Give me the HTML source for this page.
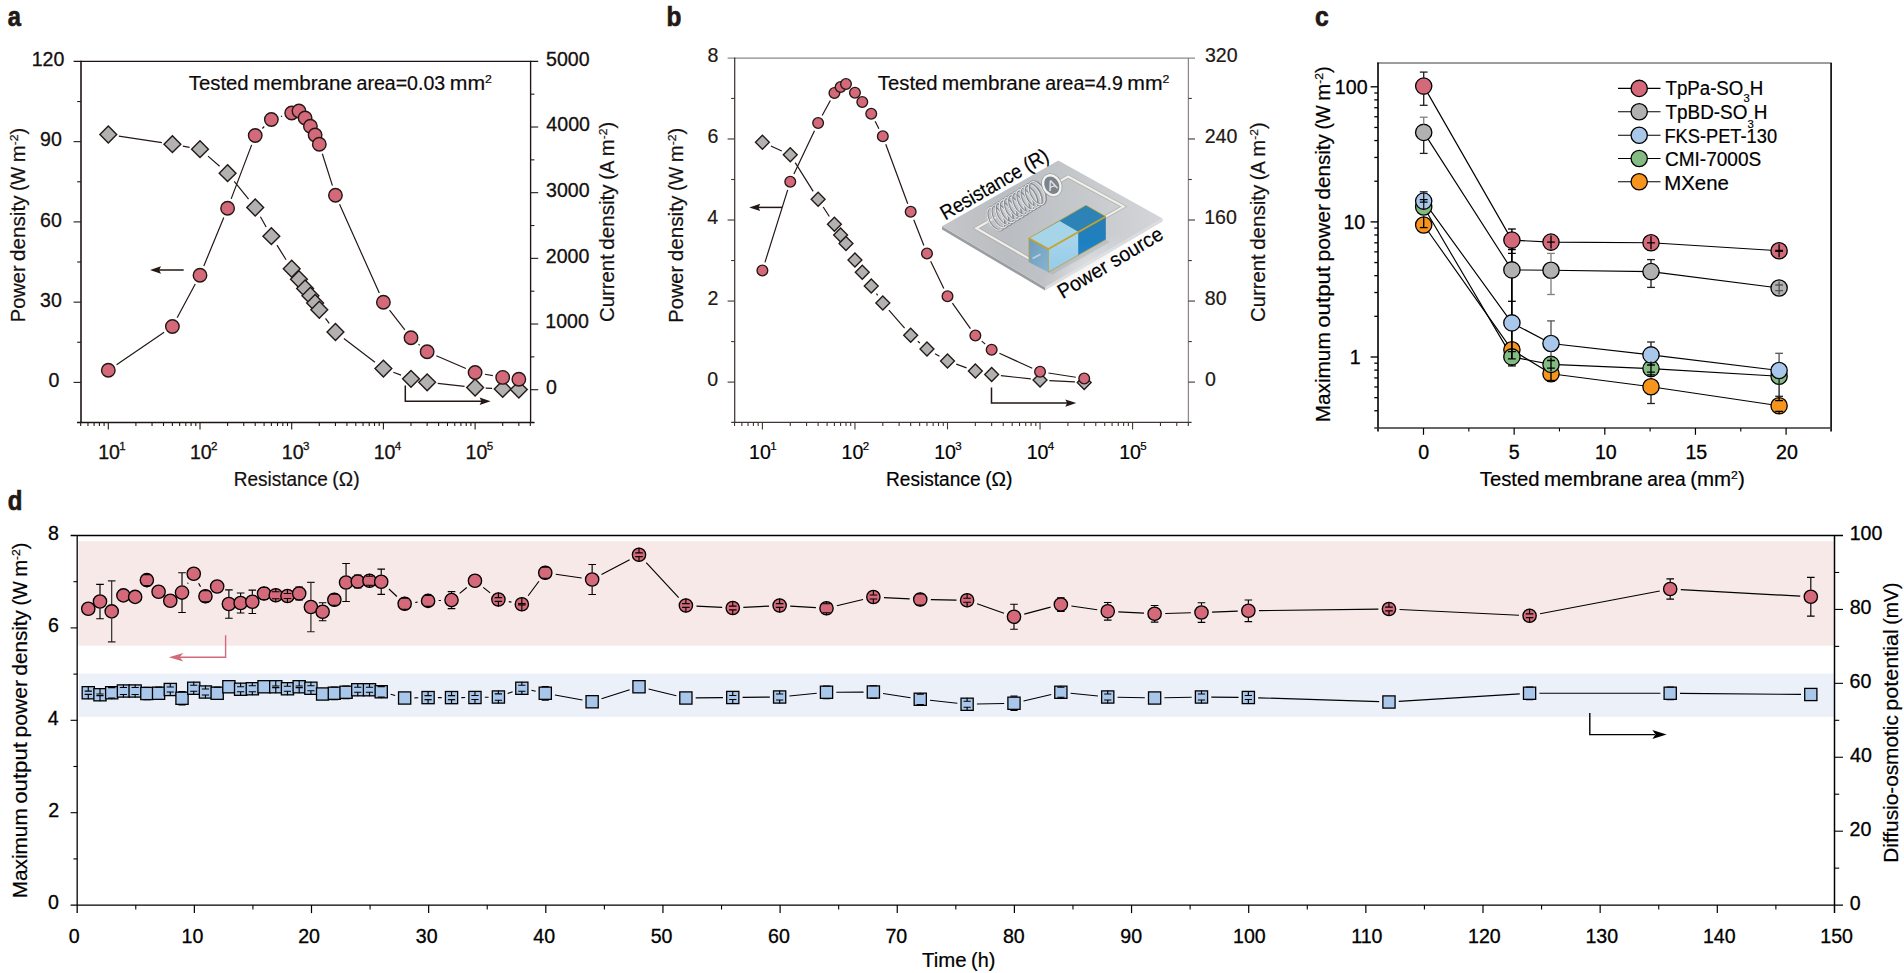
<!DOCTYPE html>
<html lang="en">
<head>
<meta charset="utf-8">
<title>Figure</title>
<style>
html,body{margin:0;padding:0;background:#fff;}
body{width:1904px;height:973px;overflow:hidden;font-family:"Liberation Sans",sans-serif;}
svg{display:block;}
text{white-space:pre;}
</style>
</head>
<body>
<svg width="1904" height="973" viewBox="0 0 1904 973" font-family='"Liberation Sans", sans-serif' role="img" aria-label="Figure with four panels: power density and current density versus resistance, maximum output power density versus tested membrane area, and long-term stability over time">
<rect width="1904" height="973" fill="#ffffff"/>
<line x1="81" y1="60.8" x2="81" y2="423.1" stroke="#1c1412" stroke-width="1.6"/>
<line x1="530.6" y1="60.8" x2="530.6" y2="423.1" stroke="#1c1412" stroke-width="1.35"/>
<line x1="73.6" y1="61.4" x2="538.2" y2="61.4" stroke="#1c1412" stroke-width="1.35"/>
<line x1="77" y1="422.4" x2="534.6" y2="422.4" stroke="#1c1412" stroke-width="1.55"/>
<line x1="73.6" y1="382.4" x2="81" y2="382.4" stroke="#231815" stroke-width="1.1"/>
<text x="48.46" y="387" font-size="19.6" fill="#14100f" stroke="#14100f" stroke-width="0.3">0</text>
<line x1="77.2" y1="342.27" x2="81" y2="342.27" stroke="#231815" stroke-width="1.1"/>
<line x1="73.6" y1="302.15" x2="81" y2="302.15" stroke="#231815" stroke-width="1.1"/>
<text x="40.08" y="306.75" font-size="19.6" fill="#14100f" stroke="#14100f" stroke-width="0.3">30</text>
<line x1="77.2" y1="262.02" x2="81" y2="262.02" stroke="#231815" stroke-width="1.1"/>
<line x1="73.6" y1="221.9" x2="81" y2="221.9" stroke="#231815" stroke-width="1.1"/>
<text x="40.08" y="226.5" font-size="19.6" fill="#14100f" stroke="#14100f" stroke-width="0.3">60</text>
<line x1="77.2" y1="181.77" x2="81" y2="181.77" stroke="#231815" stroke-width="1.1"/>
<line x1="73.6" y1="141.65" x2="81" y2="141.65" stroke="#231815" stroke-width="1.1"/>
<text x="40.08" y="146.25" font-size="19.6" fill="#14100f" stroke="#14100f" stroke-width="0.3">90</text>
<line x1="77.2" y1="101.52" x2="81" y2="101.52" stroke="#231815" stroke-width="1.1"/>
<text x="31.65" y="66" font-size="19.6" fill="#14100f" stroke="#14100f" stroke-width="0.3">120</text>
<line x1="530.6" y1="389.7" x2="538.2" y2="389.7" stroke="#231815" stroke-width="1.1"/>
<text x="546.02" y="394.1" font-size="19.6" fill="#14100f" stroke="#14100f" stroke-width="0.3">0</text>
<line x1="530.6" y1="356.87" x2="534.4" y2="356.87" stroke="#231815" stroke-width="1.1"/>
<line x1="530.6" y1="324.03" x2="538.2" y2="324.03" stroke="#231815" stroke-width="1.1"/>
<text x="545.33" y="328.43" font-size="19.6" fill="#14100f" stroke="#14100f" stroke-width="0.3">1000</text>
<line x1="530.6" y1="291.19" x2="534.4" y2="291.19" stroke="#231815" stroke-width="1.1"/>
<line x1="530.6" y1="258.36" x2="538.2" y2="258.36" stroke="#231815" stroke-width="1.1"/>
<text x="545.82" y="262.76" font-size="19.6" fill="#14100f" stroke="#14100f" stroke-width="0.3">2000</text>
<line x1="530.6" y1="225.52" x2="534.4" y2="225.52" stroke="#231815" stroke-width="1.1"/>
<line x1="530.6" y1="192.69" x2="538.2" y2="192.69" stroke="#231815" stroke-width="1.1"/>
<text x="546.06" y="197.09" font-size="19.6" fill="#14100f" stroke="#14100f" stroke-width="0.3">3000</text>
<line x1="530.6" y1="159.85" x2="534.4" y2="159.85" stroke="#231815" stroke-width="1.1"/>
<line x1="530.6" y1="127.02" x2="538.2" y2="127.02" stroke="#231815" stroke-width="1.1"/>
<text x="546.36" y="131.42" font-size="19.6" fill="#14100f" stroke="#14100f" stroke-width="0.3">4000</text>
<line x1="530.6" y1="94.18" x2="534.4" y2="94.18" stroke="#231815" stroke-width="1.1"/>
<text x="546.02" y="65.75" font-size="19.6" fill="#14100f" stroke="#14100f" stroke-width="0.3">5000</text>
<line x1="80.7" y1="422.4" x2="80.7" y2="426" stroke="#231815" stroke-width="1.1"/>
<line x1="87.96" y1="422.4" x2="87.96" y2="426" stroke="#231815" stroke-width="1.1"/>
<line x1="94.1" y1="422.4" x2="94.1" y2="426" stroke="#231815" stroke-width="1.1"/>
<line x1="99.41" y1="422.4" x2="99.41" y2="426" stroke="#231815" stroke-width="1.1"/>
<line x1="104.1" y1="422.4" x2="104.1" y2="426" stroke="#231815" stroke-width="1.1"/>
<line x1="108.3" y1="422.4" x2="108.3" y2="429.4" stroke="#231815" stroke-width="1.1"/>
<line x1="135.9" y1="422.4" x2="135.9" y2="426" stroke="#231815" stroke-width="1.1"/>
<line x1="152.05" y1="422.4" x2="152.05" y2="426" stroke="#231815" stroke-width="1.1"/>
<line x1="163.51" y1="422.4" x2="163.51" y2="426" stroke="#231815" stroke-width="1.1"/>
<line x1="172.4" y1="422.4" x2="172.4" y2="426" stroke="#231815" stroke-width="1.1"/>
<line x1="179.66" y1="422.4" x2="179.66" y2="426" stroke="#231815" stroke-width="1.1"/>
<line x1="185.8" y1="422.4" x2="185.8" y2="426" stroke="#231815" stroke-width="1.1"/>
<line x1="191.11" y1="422.4" x2="191.11" y2="426" stroke="#231815" stroke-width="1.1"/>
<line x1="195.8" y1="422.4" x2="195.8" y2="426" stroke="#231815" stroke-width="1.1"/>
<line x1="200" y1="422.4" x2="200" y2="429.4" stroke="#231815" stroke-width="1.1"/>
<line x1="227.6" y1="422.4" x2="227.6" y2="426" stroke="#231815" stroke-width="1.1"/>
<line x1="243.75" y1="422.4" x2="243.75" y2="426" stroke="#231815" stroke-width="1.1"/>
<line x1="255.21" y1="422.4" x2="255.21" y2="426" stroke="#231815" stroke-width="1.1"/>
<line x1="264.1" y1="422.4" x2="264.1" y2="426" stroke="#231815" stroke-width="1.1"/>
<line x1="271.36" y1="422.4" x2="271.36" y2="426" stroke="#231815" stroke-width="1.1"/>
<line x1="277.5" y1="422.4" x2="277.5" y2="426" stroke="#231815" stroke-width="1.1"/>
<line x1="282.81" y1="422.4" x2="282.81" y2="426" stroke="#231815" stroke-width="1.1"/>
<line x1="287.5" y1="422.4" x2="287.5" y2="426" stroke="#231815" stroke-width="1.1"/>
<line x1="291.7" y1="422.4" x2="291.7" y2="429.4" stroke="#231815" stroke-width="1.1"/>
<line x1="319.3" y1="422.4" x2="319.3" y2="426" stroke="#231815" stroke-width="1.1"/>
<line x1="335.45" y1="422.4" x2="335.45" y2="426" stroke="#231815" stroke-width="1.1"/>
<line x1="346.91" y1="422.4" x2="346.91" y2="426" stroke="#231815" stroke-width="1.1"/>
<line x1="355.8" y1="422.4" x2="355.8" y2="426" stroke="#231815" stroke-width="1.1"/>
<line x1="363.06" y1="422.4" x2="363.06" y2="426" stroke="#231815" stroke-width="1.1"/>
<line x1="369.2" y1="422.4" x2="369.2" y2="426" stroke="#231815" stroke-width="1.1"/>
<line x1="374.51" y1="422.4" x2="374.51" y2="426" stroke="#231815" stroke-width="1.1"/>
<line x1="379.2" y1="422.4" x2="379.2" y2="426" stroke="#231815" stroke-width="1.1"/>
<line x1="383.4" y1="422.4" x2="383.4" y2="429.4" stroke="#231815" stroke-width="1.1"/>
<line x1="411" y1="422.4" x2="411" y2="426" stroke="#231815" stroke-width="1.1"/>
<line x1="427.15" y1="422.4" x2="427.15" y2="426" stroke="#231815" stroke-width="1.1"/>
<line x1="438.61" y1="422.4" x2="438.61" y2="426" stroke="#231815" stroke-width="1.1"/>
<line x1="447.5" y1="422.4" x2="447.5" y2="426" stroke="#231815" stroke-width="1.1"/>
<line x1="454.76" y1="422.4" x2="454.76" y2="426" stroke="#231815" stroke-width="1.1"/>
<line x1="460.9" y1="422.4" x2="460.9" y2="426" stroke="#231815" stroke-width="1.1"/>
<line x1="466.21" y1="422.4" x2="466.21" y2="426" stroke="#231815" stroke-width="1.1"/>
<line x1="470.9" y1="422.4" x2="470.9" y2="426" stroke="#231815" stroke-width="1.1"/>
<line x1="475.1" y1="422.4" x2="475.1" y2="429.4" stroke="#231815" stroke-width="1.1"/>
<line x1="502.7" y1="422.4" x2="502.7" y2="426" stroke="#231815" stroke-width="1.1"/>
<line x1="518.85" y1="422.4" x2="518.85" y2="426" stroke="#231815" stroke-width="1.1"/>
<line x1="530.31" y1="422.4" x2="530.31" y2="426" stroke="#231815" stroke-width="1.1"/>
<text x="98.13" y="458.5" font-size="19.6" fill="#14100f" stroke="#14100f" stroke-width="0.3">10<tspan dx="-0.7" dy="-9" font-size="11.56">1</tspan></text>
<text x="189.98" y="458.5" font-size="19.6" fill="#14100f" stroke="#14100f" stroke-width="0.3">10<tspan dx="-0.7" dy="-9" font-size="11.56">2</tspan></text>
<text x="281.83" y="458.5" font-size="19.6" fill="#14100f" stroke="#14100f" stroke-width="0.3">10<tspan dx="-0.7" dy="-9" font-size="11.56">3</tspan></text>
<text x="373.68" y="458.5" font-size="19.6" fill="#14100f" stroke="#14100f" stroke-width="0.3">10<tspan dx="-0.7" dy="-9" font-size="11.56">4</tspan></text>
<text x="465.53" y="458.5" font-size="19.6" fill="#14100f" stroke="#14100f" stroke-width="0.3">10<tspan dx="-0.7" dy="-9" font-size="11.56">5</tspan></text>
<g transform="translate(25.2 320.5) rotate(-90)">
<text x="-1.65" y="0" font-size="19.6" fill="#14100f" textLength="56.7" lengthAdjust="spacingAndGlyphs" stroke="#14100f" stroke-width="0.2">Power</text>
<text x="59.59" y="0" font-size="19.6" fill="#14100f" textLength="65.42" lengthAdjust="spacingAndGlyphs" stroke="#14100f" stroke-width="0.2">density</text>
<text x="129.55" y="0" font-size="19.6" fill="#14100f" textLength="24.22" lengthAdjust="spacingAndGlyphs" stroke="#14100f" stroke-width="0.2">(W</text>
<text x="158.32" y="0" font-size="19.6" fill="#14100f" textLength="34.51" lengthAdjust="spacingAndGlyphs" stroke="#14100f" stroke-width="0.2">m<tspan dx="0" dy="-6.8" font-size="11.76">-2</tspan><tspan dy="6.8">)</tspan></text>
</g>
<g transform="translate(614.1 321) rotate(-90)">
<text x="-1.02" y="0" font-size="19.6" fill="#14100f" textLength="67.85" lengthAdjust="spacingAndGlyphs" stroke="#14100f" stroke-width="0.2">Current</text>
<text x="71.37" y="0" font-size="19.6" fill="#14100f" textLength="65.28" lengthAdjust="spacingAndGlyphs" stroke="#14100f" stroke-width="0.2">density</text>
<text x="141.19" y="0" font-size="19.6" fill="#14100f" textLength="19.17" lengthAdjust="spacingAndGlyphs" stroke="#14100f" stroke-width="0.2">(A</text>
<text x="164.89" y="0" font-size="19.6" fill="#14100f" textLength="34.44" lengthAdjust="spacingAndGlyphs" stroke="#14100f" stroke-width="0.2">m<tspan dx="0" dy="-6.8" font-size="11.76">-2</tspan><tspan dy="6.8">)</tspan></text>
</g>
<g>
<text x="233.73" y="485.6" font-size="19.6" fill="#14100f" textLength="94.07" lengthAdjust="spacingAndGlyphs" stroke="#14100f" stroke-width="0.2">Resistance</text>
<text x="332.36" y="485.6" font-size="19.6" fill="#14100f" textLength="27.22" lengthAdjust="spacingAndGlyphs" stroke="#14100f" stroke-width="0.2">(Ω)</text>
</g>
<g>
<text x="188.84" y="89.5" font-size="19.6" fill="#0d0a09" textLength="59.85" lengthAdjust="spacingAndGlyphs" stroke="#0d0a09" stroke-width="0.2">Tested</text>
<text x="253.24" y="89.5" font-size="19.6" fill="#0d0a09" textLength="98.74" lengthAdjust="spacingAndGlyphs" stroke="#0d0a09" stroke-width="0.2">membrane</text>
<text x="356.53" y="89.5" font-size="19.6" fill="#0d0a09" textLength="88.68" lengthAdjust="spacingAndGlyphs" stroke="#0d0a09" stroke-width="0.2">area=0.03</text>
<text x="449.76" y="89.5" font-size="19.6" fill="#0d0a09" textLength="42.16" lengthAdjust="spacingAndGlyphs" stroke="#0d0a09" stroke-width="0.2">mm<tspan dx="0" dy="-7" font-size="11.37">2</tspan></text>
</g>
<line x1="158" y1="270" x2="183.7" y2="270" stroke="#231815" stroke-width="1.5"/>
<path d="M150 270L161 273.7L159.2 270L161 266.3Z" fill="#231815"/>
<path d="M405.3 385.5V401.3H482" stroke="#231815" stroke-width="1.5" fill="none"/>
<path d="M490.6 401.3L479.6 397.6L481.4 401.3L479.6 405Z" fill="#231815"/>
<path d="M118.78 136.09L161.91 142.61M182.83 146.09L189.57 147.31M208 156.15L219.61 166.25M234.25 181.46L248.56 199.24M260.41 216.74L266.16 226.96M276.97 245.19L286.08 259.76M325.53 318.33L329.23 323.42M343.88 338.43L374.97 362.17M393.34 372.27L401.06 375.13M437.69 383.44L464.56 386.36M485.69 388.04L492.12 388.36" stroke="#231815" stroke-width="1.2" fill="none"/>
<path d="M116.56 364.66L164.14 332.14M177.14 317.7L195.26 284.05M203.81 266L223.8 217.45M231.15 198.85L251.66 144.85M262.31 128.46L264.25 126.54M280.88 116.46L282.17 116.04M322.32 153.73L332.43 185.67M339.54 204.33L379.31 293.12M389.54 310.14L404.87 329.86M418.56 344.3L419.6 345.2M436.33 355.72L465.92 368.53M484.95 374.25L492.86 375.65" stroke="#231815" stroke-width="1.2" fill="none"/>
<path d="M108.3 126.1L116.7 134.5L108.3 142.9L99.9 134.5Z" fill="#b1b1b1" stroke="#231815" stroke-width="1.4" stroke-linejoin="miter"/>
<path d="M172.4 135.8L180.8 144.2L172.4 152.6L164 144.2Z" fill="#b1b1b1" stroke="#231815" stroke-width="1.4" stroke-linejoin="miter"/>
<path d="M200 140.8L208.4 149.2L200 157.6L191.6 149.2Z" fill="#b1b1b1" stroke="#231815" stroke-width="1.4" stroke-linejoin="miter"/>
<path d="M227.6 164.8L236 173.2L227.6 181.6L219.2 173.2Z" fill="#b1b1b1" stroke="#231815" stroke-width="1.4" stroke-linejoin="miter"/>
<path d="M255.21 199.1L263.61 207.5L255.21 215.9L246.81 207.5Z" fill="#b1b1b1" stroke="#231815" stroke-width="1.4" stroke-linejoin="miter"/>
<path d="M271.36 227.8L279.76 236.2L271.36 244.6L262.96 236.2Z" fill="#b1b1b1" stroke="#231815" stroke-width="1.4" stroke-linejoin="miter"/>
<path d="M291.7 260.35L300.1 268.75L291.7 277.15L283.3 268.75Z" fill="#b1b1b1" stroke="#231815" stroke-width="1.4" stroke-linejoin="miter"/>
<path d="M298.96 270.85L307.36 279.25L298.96 287.65L290.56 279.25Z" fill="#b1b1b1" stroke="#231815" stroke-width="1.4" stroke-linejoin="miter"/>
<path d="M305.1 280.1L313.5 288.5L305.1 296.9L296.7 288.5Z" fill="#b1b1b1" stroke="#231815" stroke-width="1.4" stroke-linejoin="miter"/>
<path d="M310.42 287.35L318.82 295.75L310.42 304.15L302.02 295.75Z" fill="#b1b1b1" stroke="#231815" stroke-width="1.4" stroke-linejoin="miter"/>
<path d="M315.11 294.6L323.51 303L315.11 311.4L306.71 303Z" fill="#b1b1b1" stroke="#231815" stroke-width="1.4" stroke-linejoin="miter"/>
<path d="M319.3 301.35L327.7 309.75L319.3 318.15L310.9 309.75Z" fill="#b1b1b1" stroke="#231815" stroke-width="1.4" stroke-linejoin="miter"/>
<path d="M335.45 323.6L343.85 332L335.45 340.4L327.05 332Z" fill="#b1b1b1" stroke="#231815" stroke-width="1.4" stroke-linejoin="miter"/>
<path d="M383.4 360.2L391.8 368.6L383.4 377L375 368.6Z" fill="#b1b1b1" stroke="#231815" stroke-width="1.4" stroke-linejoin="miter"/>
<path d="M411 370.4L419.4 378.8L411 387.2L402.6 378.8Z" fill="#b1b1b1" stroke="#231815" stroke-width="1.4" stroke-linejoin="miter"/>
<path d="M427.15 373.9L435.55 382.3L427.15 390.7L418.75 382.3Z" fill="#b1b1b1" stroke="#231815" stroke-width="1.4" stroke-linejoin="miter"/>
<path d="M475.1 379.1L483.5 387.5L475.1 395.9L466.7 387.5Z" fill="#b1b1b1" stroke="#231815" stroke-width="1.4" stroke-linejoin="miter"/>
<path d="M502.7 380.5L511.1 388.9L502.7 397.3L494.3 388.9Z" fill="#b1b1b1" stroke="#231815" stroke-width="1.4" stroke-linejoin="miter"/>
<path d="M518.85 381.2L527.25 389.6L518.85 398L510.45 389.6Z" fill="#b1b1b1" stroke="#231815" stroke-width="1.4" stroke-linejoin="miter"/>
<circle cx="108.3" cy="370.3" r="6.75" fill="#d4697a" stroke="#231815" stroke-width="1.4"/>
<circle cx="172.4" cy="326.5" r="6.75" fill="#d4697a" stroke="#231815" stroke-width="1.4"/>
<circle cx="200" cy="275.25" r="6.75" fill="#d4697a" stroke="#231815" stroke-width="1.4"/>
<circle cx="227.6" cy="208.2" r="6.75" fill="#d4697a" stroke="#231815" stroke-width="1.4"/>
<circle cx="255.21" cy="135.5" r="6.75" fill="#d4697a" stroke="#231815" stroke-width="1.4"/>
<circle cx="271.36" cy="119.5" r="6.75" fill="#d4697a" stroke="#231815" stroke-width="1.4"/>
<circle cx="291.7" cy="113" r="6.75" fill="#d4697a" stroke="#231815" stroke-width="1.4"/>
<circle cx="298.96" cy="111" r="6.75" fill="#d4697a" stroke="#231815" stroke-width="1.4"/>
<circle cx="305.1" cy="118" r="6.75" fill="#d4697a" stroke="#231815" stroke-width="1.4"/>
<circle cx="310.42" cy="126.2" r="6.75" fill="#d4697a" stroke="#231815" stroke-width="1.4"/>
<circle cx="315.11" cy="135" r="6.75" fill="#d4697a" stroke="#231815" stroke-width="1.4"/>
<circle cx="319.3" cy="144.2" r="6.75" fill="#d4697a" stroke="#231815" stroke-width="1.4"/>
<circle cx="335.45" cy="195.2" r="6.75" fill="#d4697a" stroke="#231815" stroke-width="1.4"/>
<circle cx="383.4" cy="302.25" r="6.75" fill="#d4697a" stroke="#231815" stroke-width="1.4"/>
<circle cx="411" cy="337.75" r="6.75" fill="#d4697a" stroke="#231815" stroke-width="1.4"/>
<circle cx="427.15" cy="351.75" r="6.75" fill="#d4697a" stroke="#231815" stroke-width="1.4"/>
<circle cx="475.1" cy="372.5" r="6.75" fill="#d4697a" stroke="#231815" stroke-width="1.4"/>
<circle cx="502.7" cy="377.4" r="6.75" fill="#d4697a" stroke="#231815" stroke-width="1.4"/>
<circle cx="518.85" cy="379.2" r="6.75" fill="#d4697a" stroke="#231815" stroke-width="1.4"/>
<line x1="727.6" y1="58" x2="1195" y2="58" stroke="#8f8886" stroke-width="1.25"/>
<line x1="1188.4" y1="58" x2="1188.4" y2="422.4" stroke="#8f8886" stroke-width="1.25"/>
<line x1="734.7" y1="57.5" x2="734.7" y2="423" stroke="#3e3532" stroke-width="1.25"/>
<line x1="731.2" y1="422.4" x2="1191.6" y2="422.4" stroke="#3e3532" stroke-width="1.25"/>
<line x1="727.6" y1="382.1" x2="734.7" y2="382.1" stroke="#3e3532" stroke-width="1.1"/>
<text x="707.36" y="386.3" font-size="19.6" fill="#231815" stroke="#231815" stroke-width="0.2">0</text>
<line x1="731.2" y1="341.58" x2="734.7" y2="341.58" stroke="#3e3532" stroke-width="1.1"/>
<line x1="727.6" y1="301.06" x2="734.7" y2="301.06" stroke="#3e3532" stroke-width="1.1"/>
<text x="707.6" y="305.26" font-size="19.6" fill="#231815" stroke="#231815" stroke-width="0.2">2</text>
<line x1="731.2" y1="260.54" x2="734.7" y2="260.54" stroke="#3e3532" stroke-width="1.1"/>
<line x1="727.6" y1="220.02" x2="734.7" y2="220.02" stroke="#3e3532" stroke-width="1.1"/>
<text x="707.16" y="224.22" font-size="19.6" fill="#231815" stroke="#231815" stroke-width="0.2">4</text>
<line x1="731.2" y1="179.5" x2="734.7" y2="179.5" stroke="#3e3532" stroke-width="1.1"/>
<line x1="727.6" y1="138.98" x2="734.7" y2="138.98" stroke="#3e3532" stroke-width="1.1"/>
<text x="707.46" y="143.18" font-size="19.6" fill="#231815" stroke="#231815" stroke-width="0.2">6</text>
<line x1="731.2" y1="98.46" x2="734.7" y2="98.46" stroke="#3e3532" stroke-width="1.1"/>
<text x="707.46" y="62.14" font-size="19.6" fill="#231815" stroke="#231815" stroke-width="0.2">8</text>
<line x1="1188.4" y1="382.1" x2="1195" y2="382.1" stroke="#3e3532" stroke-width="1.1"/>
<text x="1204.92" y="386.1" font-size="19.6" fill="#231815" stroke="#231815" stroke-width="0.2">0</text>
<line x1="1188.4" y1="341.58" x2="1191.8" y2="341.58" stroke="#3e3532" stroke-width="1.1"/>
<line x1="1188.4" y1="301.06" x2="1195" y2="301.06" stroke="#3e3532" stroke-width="1.1"/>
<text x="1204.87" y="305.06" font-size="19.6" fill="#231815" stroke="#231815" stroke-width="0.2">80</text>
<line x1="1188.4" y1="260.54" x2="1191.8" y2="260.54" stroke="#3e3532" stroke-width="1.1"/>
<line x1="1188.4" y1="220.02" x2="1195" y2="220.02" stroke="#3e3532" stroke-width="1.1"/>
<text x="1204.23" y="224.02" font-size="19.6" fill="#231815" stroke="#231815" stroke-width="0.2">160</text>
<line x1="1188.4" y1="179.5" x2="1191.8" y2="179.5" stroke="#3e3532" stroke-width="1.1"/>
<line x1="1188.4" y1="138.98" x2="1195" y2="138.98" stroke="#3e3532" stroke-width="1.1"/>
<text x="1204.72" y="142.98" font-size="19.6" fill="#231815" stroke="#231815" stroke-width="0.2">240</text>
<line x1="1188.4" y1="98.46" x2="1191.8" y2="98.46" stroke="#3e3532" stroke-width="1.1"/>
<text x="1204.97" y="61.94" font-size="19.6" fill="#231815" stroke="#231815" stroke-width="0.2">320</text>
<line x1="734.54" y1="422.4" x2="734.54" y2="426" stroke="#3e3532" stroke-width="1.1"/>
<line x1="741.87" y1="422.4" x2="741.87" y2="426" stroke="#3e3532" stroke-width="1.1"/>
<line x1="748.06" y1="422.4" x2="748.06" y2="426" stroke="#3e3532" stroke-width="1.1"/>
<line x1="753.43" y1="422.4" x2="753.43" y2="426" stroke="#3e3532" stroke-width="1.1"/>
<line x1="758.17" y1="422.4" x2="758.17" y2="426" stroke="#3e3532" stroke-width="1.1"/>
<line x1="762.4" y1="422.4" x2="762.4" y2="429.4" stroke="#3e3532" stroke-width="1.1"/>
<line x1="790.26" y1="422.4" x2="790.26" y2="426" stroke="#3e3532" stroke-width="1.1"/>
<line x1="806.56" y1="422.4" x2="806.56" y2="426" stroke="#3e3532" stroke-width="1.1"/>
<line x1="818.12" y1="422.4" x2="818.12" y2="426" stroke="#3e3532" stroke-width="1.1"/>
<line x1="827.09" y1="422.4" x2="827.09" y2="426" stroke="#3e3532" stroke-width="1.1"/>
<line x1="834.42" y1="422.4" x2="834.42" y2="426" stroke="#3e3532" stroke-width="1.1"/>
<line x1="840.61" y1="422.4" x2="840.61" y2="426" stroke="#3e3532" stroke-width="1.1"/>
<line x1="845.98" y1="422.4" x2="845.98" y2="426" stroke="#3e3532" stroke-width="1.1"/>
<line x1="850.72" y1="422.4" x2="850.72" y2="426" stroke="#3e3532" stroke-width="1.1"/>
<line x1="854.95" y1="422.4" x2="854.95" y2="429.4" stroke="#3e3532" stroke-width="1.1"/>
<line x1="882.81" y1="422.4" x2="882.81" y2="426" stroke="#3e3532" stroke-width="1.1"/>
<line x1="899.11" y1="422.4" x2="899.11" y2="426" stroke="#3e3532" stroke-width="1.1"/>
<line x1="910.67" y1="422.4" x2="910.67" y2="426" stroke="#3e3532" stroke-width="1.1"/>
<line x1="919.64" y1="422.4" x2="919.64" y2="426" stroke="#3e3532" stroke-width="1.1"/>
<line x1="926.97" y1="422.4" x2="926.97" y2="426" stroke="#3e3532" stroke-width="1.1"/>
<line x1="933.16" y1="422.4" x2="933.16" y2="426" stroke="#3e3532" stroke-width="1.1"/>
<line x1="938.53" y1="422.4" x2="938.53" y2="426" stroke="#3e3532" stroke-width="1.1"/>
<line x1="943.27" y1="422.4" x2="943.27" y2="426" stroke="#3e3532" stroke-width="1.1"/>
<line x1="947.5" y1="422.4" x2="947.5" y2="429.4" stroke="#3e3532" stroke-width="1.1"/>
<line x1="975.36" y1="422.4" x2="975.36" y2="426" stroke="#3e3532" stroke-width="1.1"/>
<line x1="991.66" y1="422.4" x2="991.66" y2="426" stroke="#3e3532" stroke-width="1.1"/>
<line x1="1003.22" y1="422.4" x2="1003.22" y2="426" stroke="#3e3532" stroke-width="1.1"/>
<line x1="1012.19" y1="422.4" x2="1012.19" y2="426" stroke="#3e3532" stroke-width="1.1"/>
<line x1="1019.52" y1="422.4" x2="1019.52" y2="426" stroke="#3e3532" stroke-width="1.1"/>
<line x1="1025.71" y1="422.4" x2="1025.71" y2="426" stroke="#3e3532" stroke-width="1.1"/>
<line x1="1031.08" y1="422.4" x2="1031.08" y2="426" stroke="#3e3532" stroke-width="1.1"/>
<line x1="1035.82" y1="422.4" x2="1035.82" y2="426" stroke="#3e3532" stroke-width="1.1"/>
<line x1="1040.05" y1="422.4" x2="1040.05" y2="429.4" stroke="#3e3532" stroke-width="1.1"/>
<line x1="1067.91" y1="422.4" x2="1067.91" y2="426" stroke="#3e3532" stroke-width="1.1"/>
<line x1="1084.21" y1="422.4" x2="1084.21" y2="426" stroke="#3e3532" stroke-width="1.1"/>
<line x1="1095.77" y1="422.4" x2="1095.77" y2="426" stroke="#3e3532" stroke-width="1.1"/>
<line x1="1104.74" y1="422.4" x2="1104.74" y2="426" stroke="#3e3532" stroke-width="1.1"/>
<line x1="1112.07" y1="422.4" x2="1112.07" y2="426" stroke="#3e3532" stroke-width="1.1"/>
<line x1="1118.26" y1="422.4" x2="1118.26" y2="426" stroke="#3e3532" stroke-width="1.1"/>
<line x1="1123.63" y1="422.4" x2="1123.63" y2="426" stroke="#3e3532" stroke-width="1.1"/>
<line x1="1128.37" y1="422.4" x2="1128.37" y2="426" stroke="#3e3532" stroke-width="1.1"/>
<line x1="1132.6" y1="422.4" x2="1132.6" y2="429.4" stroke="#3e3532" stroke-width="1.1"/>
<line x1="1160.46" y1="422.4" x2="1160.46" y2="426" stroke="#3e3532" stroke-width="1.1"/>
<line x1="1176.76" y1="422.4" x2="1176.76" y2="426" stroke="#3e3532" stroke-width="1.1"/>
<line x1="1188.32" y1="422.4" x2="1188.32" y2="426" stroke="#3e3532" stroke-width="1.1"/>
<text x="749.03" y="458.5" font-size="19.6" fill="#000000" stroke="#000000" stroke-width="0.2">10<tspan dx="-0.7" dy="-9" font-size="11.56">1</tspan></text>
<text x="841.58" y="458.5" font-size="19.6" fill="#000000" stroke="#000000" stroke-width="0.2">10<tspan dx="-0.7" dy="-9" font-size="11.56">2</tspan></text>
<text x="934.13" y="458.5" font-size="19.6" fill="#000000" stroke="#000000" stroke-width="0.2">10<tspan dx="-0.7" dy="-9" font-size="11.56">3</tspan></text>
<text x="1026.68" y="458.5" font-size="19.6" fill="#000000" stroke="#000000" stroke-width="0.2">10<tspan dx="-0.7" dy="-9" font-size="11.56">4</tspan></text>
<text x="1119.23" y="458.5" font-size="19.6" fill="#000000" stroke="#000000" stroke-width="0.2">10<tspan dx="-0.7" dy="-9" font-size="11.56">5</tspan></text>
<g transform="translate(682.6 321) rotate(-90)">
<text x="-1.65" y="0" font-size="19.6" fill="#14100f" textLength="56.84" lengthAdjust="spacingAndGlyphs" stroke="#14100f" stroke-width="0.2">Power</text>
<text x="59.74" y="0" font-size="19.6" fill="#14100f" textLength="65.59" lengthAdjust="spacingAndGlyphs" stroke="#14100f" stroke-width="0.2">density</text>
<text x="129.89" y="0" font-size="19.6" fill="#14100f" textLength="24.28" lengthAdjust="spacingAndGlyphs" stroke="#14100f" stroke-width="0.2">(W</text>
<text x="158.73" y="0" font-size="19.6" fill="#14100f" textLength="34.6" lengthAdjust="spacingAndGlyphs" stroke="#14100f" stroke-width="0.2">m<tspan dx="0" dy="-6.8" font-size="11.76">-2</tspan><tspan dy="6.8">)</tspan></text>
</g>
<g transform="translate(1265.2 321) rotate(-90)">
<text x="-1.01" y="0" font-size="19.6" fill="#14100f" textLength="67.65" lengthAdjust="spacingAndGlyphs" stroke="#14100f" stroke-width="0.2">Current</text>
<text x="71.15" y="0" font-size="19.6" fill="#14100f" textLength="65.09" lengthAdjust="spacingAndGlyphs" stroke="#14100f" stroke-width="0.2">density</text>
<text x="140.76" y="0" font-size="19.6" fill="#14100f" textLength="19.11" lengthAdjust="spacingAndGlyphs" stroke="#14100f" stroke-width="0.2">(A</text>
<text x="164.39" y="0" font-size="19.6" fill="#14100f" textLength="34.33" lengthAdjust="spacingAndGlyphs" stroke="#14100f" stroke-width="0.2">m<tspan dx="0" dy="-6.8" font-size="11.76">-2</tspan><tspan dy="6.8">)</tspan></text>
</g>
<g>
<text x="886.02" y="485.6" font-size="19.6" fill="#000000" textLength="94.53" lengthAdjust="spacingAndGlyphs" stroke="#000000" stroke-width="0.2">Resistance</text>
<text x="985.13" y="485.6" font-size="19.6" fill="#000000" textLength="27.35" lengthAdjust="spacingAndGlyphs" stroke="#000000" stroke-width="0.2">(Ω)</text>
</g>
<g>
<text x="877.84" y="89.5" font-size="19.6" fill="#0d0a09" textLength="59.75" lengthAdjust="spacingAndGlyphs" stroke="#0d0a09" stroke-width="0.2">Tested</text>
<text x="942.13" y="89.5" font-size="19.6" fill="#0d0a09" textLength="98.58" lengthAdjust="spacingAndGlyphs" stroke="#0d0a09" stroke-width="0.2">membrane</text>
<text x="1045.25" y="89.5" font-size="19.6" fill="#0d0a09" textLength="77.55" lengthAdjust="spacingAndGlyphs" stroke="#0d0a09" stroke-width="0.2">area=4.9</text>
<text x="1127.34" y="89.5" font-size="19.6" fill="#0d0a09" textLength="42.09" lengthAdjust="spacingAndGlyphs" stroke="#0d0a09" stroke-width="0.2">mm<tspan dx="0" dy="-7" font-size="11.37">2</tspan></text>
</g>
<defs>
<linearGradient id="plate" gradientUnits="userSpaceOnUse" x1="950" y1="225" x2="1160" y2="220">
<stop offset="0" stop-color="#c3c5c8"/><stop offset="0.28" stop-color="#babdc1"/><stop offset="0.6" stop-color="#c5c8cb"/><stop offset="1" stop-color="#d3d5d8"/>
</linearGradient>
<linearGradient id="bxl" x1="0" y1="0" x2="1" y2="1"><stop offset="0" stop-color="#6e9bbb"/><stop offset="1" stop-color="#86b4d2"/></linearGradient>
<linearGradient id="bxd" x1="0" y1="0" x2="0" y2="1"><stop offset="0" stop-color="#2a7db4"/><stop offset="0.5" stop-color="#1c80c2"/><stop offset="1" stop-color="#2f8fcb"/></linearGradient>
<linearGradient id="bxf" x1="0" y1="0" x2="0" y2="1"><stop offset="0" stop-color="#a9d6ec"/><stop offset="1" stop-color="#97cbe8"/></linearGradient>
<radialGradient id="glow"><stop offset="0" stop-color="#e2e4e6" stop-opacity="0.7"/><stop offset="1" stop-color="#e2e4e6" stop-opacity="0"/></radialGradient>
</defs>
<path d="M942 226.3L1045 287.2L1045 290.4L942 229.6Z" fill="#9a9ea2"/>
<path d="M1045 287.2L1162.6 218.5L1162.6 221.6L1045 290.4Z" fill="#d9dbdd"/>
<path d="M942 226.3L1058.3 160.5L1162.6 218.5L1045 287.2Z" fill="url(#plate)"/>
<ellipse cx="1085" cy="262" rx="48" ry="15" transform="rotate(-30 1085 262)" fill="url(#glow)"/>
<path d="M1048.4 272.2L1105.8 239.6L1110 242L1052.5 274.6Z" fill="#9a9ea3" opacity="0.3"/>
<path d="M996 217.3L976.3 228.2L1032.4 260.6L1040 256.3" stroke="#9c9c98" stroke-width="3.7" fill="none" stroke-linejoin="miter" opacity="0.55"/>
<path d="M1059 181.6L1068.2 176.6L1123.6 206.6L1104 217.6" stroke="#9c9c98" stroke-width="3.7" fill="none" stroke-linejoin="miter" opacity="0.55"/>
<path d="M996 217.3L976.3 228.2L1032.4 260.6L1040 256.3" stroke="#efeeea" stroke-width="2.2" fill="none" stroke-linejoin="miter" opacity="1"/>
<path d="M1059 181.6L1068.2 176.6L1123.6 206.6L1104 217.6" stroke="#efeeea" stroke-width="2.2" fill="none" stroke-linejoin="miter" opacity="1"/>
<path d="M996 218.6L1037.4 193" stroke="#d2d5d8" stroke-width="22" stroke-linecap="round" opacity="0.28"/>
<ellipse cx="996" cy="218.6" rx="7.2" ry="12.6" transform="rotate(-27 996 218.6)" fill="none" stroke="#7b8086" stroke-width="2.1" opacity="0.8"/>
<ellipse cx="995.3" cy="218.4" rx="7" ry="12.4" transform="rotate(-27 996 218.6)" fill="none" stroke="#e9ebed" stroke-width="1.0"/>
<ellipse cx="1000.14" cy="216.04" rx="7.2" ry="12.6" transform="rotate(-27 1000.14 216.04)" fill="none" stroke="#7b8086" stroke-width="2.1" opacity="0.8"/>
<ellipse cx="999.44" cy="215.84" rx="7" ry="12.4" transform="rotate(-27 1000.14 216.04)" fill="none" stroke="#e9ebed" stroke-width="1.0"/>
<ellipse cx="1004.28" cy="213.48" rx="7.2" ry="12.6" transform="rotate(-27 1004.28 213.48)" fill="none" stroke="#7b8086" stroke-width="2.1" opacity="0.8"/>
<ellipse cx="1003.58" cy="213.28" rx="7" ry="12.4" transform="rotate(-27 1004.28 213.48)" fill="none" stroke="#e9ebed" stroke-width="1.0"/>
<ellipse cx="1008.42" cy="210.92" rx="7.2" ry="12.6" transform="rotate(-27 1008.42 210.92)" fill="none" stroke="#7b8086" stroke-width="2.1" opacity="0.8"/>
<ellipse cx="1007.72" cy="210.72" rx="7" ry="12.4" transform="rotate(-27 1008.42 210.92)" fill="none" stroke="#e9ebed" stroke-width="1.0"/>
<ellipse cx="1012.56" cy="208.36" rx="7.2" ry="12.6" transform="rotate(-27 1012.56 208.36)" fill="none" stroke="#7b8086" stroke-width="2.1" opacity="0.8"/>
<ellipse cx="1011.86" cy="208.16" rx="7" ry="12.4" transform="rotate(-27 1012.56 208.36)" fill="none" stroke="#e9ebed" stroke-width="1.0"/>
<ellipse cx="1016.7" cy="205.8" rx="7.2" ry="12.6" transform="rotate(-27 1016.7 205.8)" fill="none" stroke="#7b8086" stroke-width="2.1" opacity="0.8"/>
<ellipse cx="1016" cy="205.6" rx="7" ry="12.4" transform="rotate(-27 1016.7 205.8)" fill="none" stroke="#e9ebed" stroke-width="1.0"/>
<ellipse cx="1020.84" cy="203.24" rx="7.2" ry="12.6" transform="rotate(-27 1020.84 203.24)" fill="none" stroke="#7b8086" stroke-width="2.1" opacity="0.8"/>
<ellipse cx="1020.14" cy="203.04" rx="7" ry="12.4" transform="rotate(-27 1020.84 203.24)" fill="none" stroke="#e9ebed" stroke-width="1.0"/>
<ellipse cx="1024.98" cy="200.68" rx="7.2" ry="12.6" transform="rotate(-27 1024.98 200.68)" fill="none" stroke="#7b8086" stroke-width="2.1" opacity="0.8"/>
<ellipse cx="1024.28" cy="200.48" rx="7" ry="12.4" transform="rotate(-27 1024.98 200.68)" fill="none" stroke="#e9ebed" stroke-width="1.0"/>
<ellipse cx="1029.12" cy="198.12" rx="7.2" ry="12.6" transform="rotate(-27 1029.12 198.12)" fill="none" stroke="#7b8086" stroke-width="2.1" opacity="0.8"/>
<ellipse cx="1028.42" cy="197.92" rx="7" ry="12.4" transform="rotate(-27 1029.12 198.12)" fill="none" stroke="#e9ebed" stroke-width="1.0"/>
<ellipse cx="1033.26" cy="195.56" rx="7.2" ry="12.6" transform="rotate(-27 1033.26 195.56)" fill="none" stroke="#7b8086" stroke-width="2.1" opacity="0.8"/>
<ellipse cx="1032.56" cy="195.36" rx="7" ry="12.4" transform="rotate(-27 1033.26 195.56)" fill="none" stroke="#e9ebed" stroke-width="1.0"/>
<ellipse cx="1037.4" cy="193" rx="7.2" ry="12.6" transform="rotate(-27 1037.4 193)" fill="none" stroke="#7b8086" stroke-width="2.1" opacity="0.8"/>
<ellipse cx="1036.7" cy="192.8" rx="7" ry="12.4" transform="rotate(-27 1037.4 193)" fill="none" stroke="#e9ebed" stroke-width="1.0"/>
<ellipse cx="1051.8" cy="185.2" rx="8.3" ry="10.4" transform="rotate(-28 1051.8 185.2)" fill="#7d838a" stroke="#8d9196" stroke-width="3.6"/>
<ellipse cx="1051.8" cy="185.2" rx="8.3" ry="10.4" transform="rotate(-28 1051.8 185.2)" fill="#7d838a" stroke="#f3f1ee" stroke-width="2.4"/>
<text x="1052" y="190" font-size="14" fill="#e6e8ea" text-anchor="middle" transform="rotate(-20 1052 185.3)">A</text>
<path d="M1028.9 238.2L1086 205.2L1105.8 216.6L1048.4 249.1Z" fill="#2d83b6"/>
<path d="M1028.9 238.2L1059.7 221.1L1078.2 231.8L1048.4 249.1Z" fill="#a6d4e9"/>
<path d="M1048.4 249.1L1105.8 216.6L1105.8 239.6L1048.4 272.2Z" fill="url(#bxd)"/>
<path d="M1048.4 249.1L1078.2 231.8L1078.2 255.2L1048.4 272.2Z" fill="url(#bxf)"/>
<path d="M1028.9 238.2L1048.4 249.1L1048.4 272.2L1028.9 262.3Z" fill="url(#bxl)"/>
<path d="M1032.5 258.5L1040.5 254.2" stroke="#c9dde9" stroke-width="1.6" opacity="0.8"/>
<path d="M1028.9 238.2L1048.4 249.1L1105.8 216.6" stroke="#c9a227" stroke-width="1.7" fill="none"/>
<path d="M1048.4 249.1V272.2M1028.9 238.2V262M1028.9 238.2L1086 205.2L1105.8 216.6M1048.4 272.2L1105.8 239.6" stroke="#c9a227" stroke-width="0.8" fill="none" opacity="0.85"/>
<text x="945.29" y="220.46" font-size="20.5" fill="#000" stroke="#000" stroke-width="0.2" textLength="121.22" lengthAdjust="spacingAndGlyphs" transform="rotate(-30 945.29 220.46)">Resistance (R)</text>
<text x="1062.72" y="299.33" font-size="20.5" fill="#000" stroke="#000" stroke-width="0.2" textLength="119.06" lengthAdjust="spacingAndGlyphs" transform="rotate(-31.1 1062.72 299.33)">Power source</text>
<line x1="757.25" y1="207.4" x2="782" y2="207.4" stroke="#231815" stroke-width="1.5"/>
<path d="M749.25 207.4L760.25 211.1L758.45 207.4L760.25 203.7Z" fill="#231815"/>
<path d="M991.5 387.5V403.1H1068" stroke="#231815" stroke-width="1.5" fill="none"/>
<path d="M1076.3 403.1L1065.3 399.4L1067.1 403.1L1065.3 406.8Z" fill="#231815"/>
<path d="M770.89 146.06L781.78 150.94M795.2 162.63L813.19 191.37M823.2 207.04L829.34 216.46M876.48 293.69L877.58 295.31M888.89 310.04L904.59 328.21M917.78 341.25L919.86 343M935 353.69L939.47 356.31M956.25 364.14L966.61 367.86M1000.9 375.55L1030.81 378.95M1049.34 380.53L1074.92 381.97" stroke="#231815" stroke-width="1.2" fill="none"/>
<path d="M764.95 262.39L787.71 189.86M793.9 174.07L814.48 130.68M822.18 115.53L830.36 100.47M875.13 121.31L878.93 128.69M885.75 144.22L907.73 203.78M913.76 219.67L923.88 245.58M930.65 261.16L943.82 288.59M952.42 303.18L970.44 328.57M981.76 341.1L985.26 344.15M999.4 353.27L1032.31 368.23M1048.45 373.03L1075.81 377.22" stroke="#231815" stroke-width="1.2" fill="none"/>
<path d="M762.4 135.3L769.35 142.25L762.4 149.2L755.45 142.25Z" fill="#b1b1b1" stroke="#231815" stroke-width="1.35" stroke-linejoin="miter"/>
<path d="M790.26 147.8L797.21 154.75L790.26 161.7L783.31 154.75Z" fill="#b1b1b1" stroke="#231815" stroke-width="1.35" stroke-linejoin="miter"/>
<path d="M818.12 192.3L825.07 199.25L818.12 206.2L811.17 199.25Z" fill="#b1b1b1" stroke="#231815" stroke-width="1.35" stroke-linejoin="miter"/>
<path d="M834.42 217.3L841.37 224.25L834.42 231.2L827.47 224.25Z" fill="#b1b1b1" stroke="#231815" stroke-width="1.35" stroke-linejoin="miter"/>
<path d="M840.61 228.05L847.56 235L840.61 241.95L833.66 235Z" fill="#b1b1b1" stroke="#231815" stroke-width="1.35" stroke-linejoin="miter"/>
<path d="M845.98 236.55L852.93 243.5L845.98 250.45L839.03 243.5Z" fill="#b1b1b1" stroke="#231815" stroke-width="1.35" stroke-linejoin="miter"/>
<path d="M854.95 253.05L861.9 260L854.95 266.95L848 260Z" fill="#b1b1b1" stroke="#231815" stroke-width="1.35" stroke-linejoin="miter"/>
<path d="M862.28 265.3L869.23 272.25L862.28 279.2L855.33 272.25Z" fill="#b1b1b1" stroke="#231815" stroke-width="1.35" stroke-linejoin="miter"/>
<path d="M871.25 279.05L878.2 286L871.25 292.95L864.3 286Z" fill="#b1b1b1" stroke="#231815" stroke-width="1.35" stroke-linejoin="miter"/>
<path d="M882.81 296.05L889.76 303L882.81 309.95L875.86 303Z" fill="#b1b1b1" stroke="#231815" stroke-width="1.35" stroke-linejoin="miter"/>
<path d="M910.67 328.3L917.62 335.25L910.67 342.2L903.72 335.25Z" fill="#b1b1b1" stroke="#231815" stroke-width="1.35" stroke-linejoin="miter"/>
<path d="M926.97 342.05L933.92 349L926.97 355.95L920.02 349Z" fill="#b1b1b1" stroke="#231815" stroke-width="1.35" stroke-linejoin="miter"/>
<path d="M947.5 354.05L954.45 361L947.5 367.95L940.55 361Z" fill="#b1b1b1" stroke="#231815" stroke-width="1.35" stroke-linejoin="miter"/>
<path d="M975.36 364.05L982.31 371L975.36 377.95L968.41 371Z" fill="#b1b1b1" stroke="#231815" stroke-width="1.35" stroke-linejoin="miter"/>
<path d="M991.66 367.55L998.61 374.5L991.66 381.45L984.71 374.5Z" fill="#b1b1b1" stroke="#231815" stroke-width="1.35" stroke-linejoin="miter"/>
<path d="M1040.05 373.05L1047 380L1040.05 386.95L1033.1 380Z" fill="#b1b1b1" stroke="#231815" stroke-width="1.35" stroke-linejoin="miter"/>
<path d="M1084.21 375.55L1091.16 382.5L1084.21 389.45L1077.26 382.5Z" fill="#b1b1b1" stroke="#231815" stroke-width="1.35" stroke-linejoin="miter"/>
<circle cx="762.4" cy="270.5" r="5.35" fill="#d4697a" stroke="#231815" stroke-width="1.35"/>
<circle cx="790.26" cy="181.75" r="5.35" fill="#d4697a" stroke="#231815" stroke-width="1.35"/>
<circle cx="818.12" cy="123" r="5.35" fill="#d4697a" stroke="#231815" stroke-width="1.35"/>
<circle cx="834.42" cy="93" r="5.35" fill="#d4697a" stroke="#231815" stroke-width="1.35"/>
<circle cx="840.61" cy="87" r="5.35" fill="#d4697a" stroke="#231815" stroke-width="1.35"/>
<circle cx="845.98" cy="84" r="5.35" fill="#d4697a" stroke="#231815" stroke-width="1.35"/>
<circle cx="854.95" cy="92.75" r="5.35" fill="#d4697a" stroke="#231815" stroke-width="1.35"/>
<circle cx="862.28" cy="102" r="5.35" fill="#d4697a" stroke="#231815" stroke-width="1.35"/>
<circle cx="871.25" cy="113.75" r="5.35" fill="#d4697a" stroke="#231815" stroke-width="1.35"/>
<circle cx="882.81" cy="136.25" r="5.35" fill="#d4697a" stroke="#231815" stroke-width="1.35"/>
<circle cx="910.67" cy="211.75" r="5.35" fill="#d4697a" stroke="#231815" stroke-width="1.35"/>
<circle cx="926.97" cy="253.5" r="5.35" fill="#d4697a" stroke="#231815" stroke-width="1.35"/>
<circle cx="947.5" cy="296.25" r="5.35" fill="#d4697a" stroke="#231815" stroke-width="1.35"/>
<circle cx="975.36" cy="335.5" r="5.35" fill="#d4697a" stroke="#231815" stroke-width="1.35"/>
<circle cx="991.66" cy="349.75" r="5.35" fill="#d4697a" stroke="#231815" stroke-width="1.35"/>
<circle cx="1040.05" cy="371.75" r="5.35" fill="#d4697a" stroke="#231815" stroke-width="1.35"/>
<circle cx="1084.21" cy="378.5" r="5.35" fill="#d4697a" stroke="#231815" stroke-width="1.35"/>
<line x1="1377.3" y1="63" x2="1831.8" y2="63" stroke="#7d7d7d" stroke-width="1.4"/>
<line x1="1378" y1="62.5" x2="1378" y2="431.4" stroke="#000000" stroke-width="1.6"/>
<line x1="1831.1" y1="63" x2="1831.1" y2="431.4" stroke="#000000" stroke-width="1.6"/>
<line x1="1374.3" y1="428" x2="1831.8" y2="428" stroke="#333" stroke-width="1.6"/>
<line x1="1374.3" y1="410.76" x2="1378" y2="410.76" stroke="#000000" stroke-width="1.3"/>
<line x1="1374.3" y1="397.67" x2="1378" y2="397.67" stroke="#000000" stroke-width="1.3"/>
<line x1="1374.3" y1="386.97" x2="1378" y2="386.97" stroke="#000000" stroke-width="1.3"/>
<line x1="1374.3" y1="377.93" x2="1378" y2="377.93" stroke="#000000" stroke-width="1.3"/>
<line x1="1374.3" y1="370.09" x2="1378" y2="370.09" stroke="#000000" stroke-width="1.3"/>
<line x1="1374.3" y1="363.18" x2="1378" y2="363.18" stroke="#000000" stroke-width="1.3"/>
<line x1="1370.6" y1="357" x2="1378" y2="357" stroke="#000000" stroke-width="1.35"/>
<line x1="1374.3" y1="316.33" x2="1378" y2="316.33" stroke="#000000" stroke-width="1.3"/>
<line x1="1374.3" y1="292.54" x2="1378" y2="292.54" stroke="#000000" stroke-width="1.3"/>
<line x1="1374.3" y1="275.66" x2="1378" y2="275.66" stroke="#000000" stroke-width="1.3"/>
<line x1="1374.3" y1="262.57" x2="1378" y2="262.57" stroke="#000000" stroke-width="1.3"/>
<line x1="1374.3" y1="251.87" x2="1378" y2="251.87" stroke="#000000" stroke-width="1.3"/>
<line x1="1374.3" y1="242.83" x2="1378" y2="242.83" stroke="#000000" stroke-width="1.3"/>
<line x1="1374.3" y1="234.99" x2="1378" y2="234.99" stroke="#000000" stroke-width="1.3"/>
<line x1="1374.3" y1="228.08" x2="1378" y2="228.08" stroke="#000000" stroke-width="1.3"/>
<line x1="1370.6" y1="221.9" x2="1378" y2="221.9" stroke="#000000" stroke-width="1.35"/>
<line x1="1374.3" y1="181.23" x2="1378" y2="181.23" stroke="#000000" stroke-width="1.3"/>
<line x1="1374.3" y1="157.44" x2="1378" y2="157.44" stroke="#000000" stroke-width="1.3"/>
<line x1="1374.3" y1="140.56" x2="1378" y2="140.56" stroke="#000000" stroke-width="1.3"/>
<line x1="1374.3" y1="127.47" x2="1378" y2="127.47" stroke="#000000" stroke-width="1.3"/>
<line x1="1374.3" y1="116.77" x2="1378" y2="116.77" stroke="#000000" stroke-width="1.3"/>
<line x1="1374.3" y1="107.73" x2="1378" y2="107.73" stroke="#000000" stroke-width="1.3"/>
<line x1="1374.3" y1="99.89" x2="1378" y2="99.89" stroke="#000000" stroke-width="1.3"/>
<line x1="1374.3" y1="92.98" x2="1378" y2="92.98" stroke="#000000" stroke-width="1.3"/>
<line x1="1370.6" y1="86.8" x2="1378" y2="86.8" stroke="#000000" stroke-width="1.35"/>
<text x="1334.85" y="94" font-size="19.6" fill="#000000" stroke="#000000" stroke-width="0.3">100</text>
<text x="1343.48" y="228.8" font-size="19.6" fill="#000000" stroke="#000000" stroke-width="0.3">10</text>
<text x="1349.65" y="363.9" font-size="19.6" fill="#000000" stroke="#000000" stroke-width="0.3">1</text>
<line x1="1423.5" y1="428" x2="1423.5" y2="434.8" stroke="#000000" stroke-width="1.2"/>
<text x="1418.34" y="459" font-size="19.6" fill="#000000" stroke="#000000" stroke-width="0.3">0</text>
<line x1="1468.83" y1="428" x2="1468.83" y2="431.4" stroke="#000000" stroke-width="1.1"/>
<line x1="1514.15" y1="428" x2="1514.15" y2="434.8" stroke="#000000" stroke-width="1.2"/>
<text x="1508.81" y="459" font-size="19.6" fill="#000000" stroke="#000000" stroke-width="0.3">5</text>
<line x1="1559.47" y1="428" x2="1559.47" y2="431.4" stroke="#000000" stroke-width="1.1"/>
<line x1="1604.8" y1="428" x2="1604.8" y2="434.8" stroke="#000000" stroke-width="1.2"/>
<text x="1594.95" y="459" font-size="19.6" fill="#000000" stroke="#000000" stroke-width="0.3">10</text>
<line x1="1650.12" y1="428" x2="1650.12" y2="431.4" stroke="#000000" stroke-width="1.1"/>
<line x1="1695.45" y1="428" x2="1695.45" y2="434.8" stroke="#000000" stroke-width="1.2"/>
<text x="1685.43" y="459" font-size="19.6" fill="#000000" stroke="#000000" stroke-width="0.3">15</text>
<line x1="1740.78" y1="428" x2="1740.78" y2="431.4" stroke="#000000" stroke-width="1.1"/>
<line x1="1786.1" y1="428" x2="1786.1" y2="434.8" stroke="#000000" stroke-width="1.2"/>
<text x="1776" y="459" font-size="19.6" fill="#000000" stroke="#000000" stroke-width="0.3">20</text>
<g transform="translate(1329.6 420.6) rotate(-90)">
<text x="-1.71" y="0" font-size="19.6" fill="#000000" textLength="90.03" lengthAdjust="spacingAndGlyphs" stroke="#000000" stroke-width="0.2">Maximum</text>
<text x="92.86" y="0" font-size="19.6" fill="#000000" textLength="61.75" lengthAdjust="spacingAndGlyphs" stroke="#000000" stroke-width="0.2">output</text>
<text x="159.15" y="0" font-size="19.6" fill="#000000" textLength="57.46" lengthAdjust="spacingAndGlyphs" stroke="#000000" stroke-width="0.2">power</text>
<text x="221.15" y="0" font-size="19.6" fill="#000000" textLength="65.39" lengthAdjust="spacingAndGlyphs" stroke="#000000" stroke-width="0.2">density</text>
<text x="291.08" y="0" font-size="19.6" fill="#000000" textLength="24.21" lengthAdjust="spacingAndGlyphs" stroke="#000000" stroke-width="0.2">(W</text>
<text x="319.83" y="0" font-size="19.6" fill="#000000" textLength="34.49" lengthAdjust="spacingAndGlyphs" stroke="#000000" stroke-width="0.2">m<tspan dx="0" dy="-6.8" font-size="11.76">-2</tspan><tspan dy="6.8">)</tspan></text>
</g>
<g>
<text x="1479.74" y="485.6" font-size="19.6" fill="#000000" textLength="59.79" lengthAdjust="spacingAndGlyphs" stroke="#000000" stroke-width="0.2">Tested</text>
<text x="1544.08" y="485.6" font-size="19.6" fill="#000000" textLength="98.65" lengthAdjust="spacingAndGlyphs" stroke="#000000" stroke-width="0.2">membrane</text>
<text x="1647.27" y="485.6" font-size="19.6" fill="#000000" textLength="38.4" lengthAdjust="spacingAndGlyphs" stroke="#000000" stroke-width="0.2">area</text>
<text x="1690.22" y="485.6" font-size="19.6" fill="#000000" textLength="54.52" lengthAdjust="spacingAndGlyphs" stroke="#000000" stroke-width="0.2">(mm<tspan dx="0" dy="-6.8" font-size="11.76">2</tspan><tspan dy="6.8">)</tspan></text>
</g>
<path d="M1423.7 225L1511.9 349.8M1511.9 349.8L1551 373.8M1551 373.8L1651 386.7M1651 386.7L1779.1 405.75" stroke="#000000" stroke-width="1.15" fill="none"/>
<path d="M1423.7 207L1511.9 356.9M1511.9 356.9L1551 364.4M1551 364.4L1651 368.6M1651 368.6L1779.1 376.25" stroke="#000000" stroke-width="1.15" fill="none"/>
<path d="M1423.7 201.1L1511.9 322.9M1511.9 322.9L1551 343.5M1551 343.5L1651 354.9M1651 354.9L1779.1 370.5" stroke="#000000" stroke-width="1.15" fill="none"/>
<path d="M1423.7 132.4L1511.9 269.9M1511.9 269.9L1551 270.2M1551 270.2L1651 271.6M1651 271.6L1779.1 288" stroke="#000000" stroke-width="1.15" fill="none"/>
<path d="M1423.7 86.1L1511.9 240.1M1511.9 240.1L1551 242.1M1551 242.1L1651 242.8M1651 242.8L1779.1 250.75" stroke="#000000" stroke-width="1.15" fill="none"/>
<circle cx="1423.7" cy="225" r="8.15" fill="#f7941d" stroke="#000000" stroke-width="1.3"/>
<circle cx="1511.9" cy="349.8" r="8.15" fill="#f7941d" stroke="#000000" stroke-width="1.3"/>
<circle cx="1551" cy="373.8" r="8.15" fill="#f7941d" stroke="#000000" stroke-width="1.3"/>
<circle cx="1651" cy="386.7" r="8.15" fill="#f7941d" stroke="#000000" stroke-width="1.3"/>
<circle cx="1779.1" cy="405.75" r="8.15" fill="#f7941d" stroke="#000000" stroke-width="1.3"/>
<circle cx="1423.7" cy="207" r="8.15" fill="#84bb82" stroke="#000000" stroke-width="1.3"/>
<circle cx="1511.9" cy="356.9" r="8.15" fill="#84bb82" stroke="#000000" stroke-width="1.3"/>
<circle cx="1551" cy="364.4" r="8.15" fill="#84bb82" stroke="#000000" stroke-width="1.3"/>
<circle cx="1651" cy="368.6" r="8.15" fill="#84bb82" stroke="#000000" stroke-width="1.3"/>
<circle cx="1779.1" cy="376.25" r="8.15" fill="#84bb82" stroke="#000000" stroke-width="1.3"/>
<circle cx="1423.7" cy="201.1" r="8.15" fill="#a9c7ea" stroke="#000000" stroke-width="1.3"/>
<circle cx="1511.9" cy="322.9" r="8.15" fill="#a9c7ea" stroke="#000000" stroke-width="1.3"/>
<circle cx="1551" cy="343.5" r="8.15" fill="#a9c7ea" stroke="#000000" stroke-width="1.3"/>
<circle cx="1651" cy="354.9" r="8.15" fill="#a9c7ea" stroke="#000000" stroke-width="1.3"/>
<circle cx="1779.1" cy="370.5" r="8.15" fill="#a9c7ea" stroke="#000000" stroke-width="1.3"/>
<circle cx="1423.7" cy="132.4" r="8.15" fill="#b1b1b1" stroke="#000000" stroke-width="1.3"/>
<circle cx="1511.9" cy="269.9" r="8.15" fill="#b1b1b1" stroke="#000000" stroke-width="1.3"/>
<circle cx="1551" cy="270.2" r="8.15" fill="#b1b1b1" stroke="#000000" stroke-width="1.3"/>
<circle cx="1651" cy="271.6" r="8.15" fill="#b1b1b1" stroke="#000000" stroke-width="1.3"/>
<circle cx="1779.1" cy="288" r="8.15" fill="#b1b1b1" stroke="#000000" stroke-width="1.3"/>
<circle cx="1423.7" cy="86.1" r="8.15" fill="#d4697a" stroke="#000000" stroke-width="1.3"/>
<circle cx="1511.9" cy="240.1" r="8.15" fill="#d4697a" stroke="#000000" stroke-width="1.3"/>
<circle cx="1551" cy="242.1" r="8.15" fill="#d4697a" stroke="#000000" stroke-width="1.3"/>
<circle cx="1651" cy="242.8" r="8.15" fill="#d4697a" stroke="#000000" stroke-width="1.3"/>
<circle cx="1779.1" cy="250.75" r="8.15" fill="#d4697a" stroke="#000000" stroke-width="1.3"/>
<path d="M1423.7 72.1V78.2" stroke="#222" stroke-width="1.35" fill="none"/>
<path d="M1419.8 72.1H1427.6" stroke="#222" stroke-width="1.3" fill="none"/>
<path d="M1423.7 94V105.3" stroke="#222" stroke-width="1.35" fill="none"/>
<path d="M1419.8 105.3H1427.6" stroke="#222" stroke-width="1.3" fill="none"/>
<path d="M1423.7 117.2V124.4" stroke="#808080" stroke-width="1.35" fill="none"/>
<path d="M1419.8 117.2H1427.6" stroke="#808080" stroke-width="1.3" fill="none"/>
<path d="M1423.7 140.4V153.4" stroke="#222" stroke-width="1.35" fill="none"/>
<path d="M1419.8 153.4H1427.6" stroke="#222" stroke-width="1.3" fill="none"/>
<path d="M1423.7 191.8V209" stroke="#222" stroke-width="1.35" fill="none"/>
<path d="M1419.8 191.8H1427.6" stroke="#222" stroke-width="1.3" fill="none"/>
<path d="M1423.7 199.6V202.2" stroke="#000000" stroke-width="1.35" fill="none"/>
<path d="M1419.8 199.6H1427.6M1419.8 202.2H1427.6" stroke="#000000" stroke-width="1.3" fill="none"/>
<path d="M1423.7 216.5V227.6" stroke="#000000" stroke-width="1.35" fill="none"/>
<path d="M1419.8 227.6H1427.6" stroke="#000000" stroke-width="1.3" fill="none"/>
<path d="M1511.9 229V232.2" stroke="#000000" stroke-width="1.35" fill="none"/>
<path d="M1508 229H1515.8" stroke="#000000" stroke-width="1.3" fill="none"/>
<path d="M1511.9 248V262" stroke="#000000" stroke-width="1.8" fill="none"/>
<path d="M1508 249.5H1515.8M1508 253.4H1515.8" stroke="#000000" stroke-width="1.3" fill="none"/>
<path d="M1511.9 277.8V315" stroke="#000000" stroke-width="1.8" fill="none"/>
<path d="M1508 301.3H1515.8" stroke="#000000" stroke-width="1.3" fill="none"/>
<path d="M1511.9 330.8V358.9" stroke="#000000" stroke-width="1.8" fill="none"/>
<path d="M1508 351.7H1515.8M1508 358.9H1515.8" stroke="#000000" stroke-width="1.3" fill="none"/>
<path d="M1511.9 364.6V365.9" stroke="#000000" stroke-width="1.8" fill="none"/>
<path d="M1508 365.9H1515.8" stroke="#000000" stroke-width="1.3" fill="none"/>
<path d="M1551 235.6V248.6" stroke="#000000" stroke-width="1.35" fill="none"/>
<path d="M1547.1 242.1H1554.9" stroke="#000000" stroke-width="1.3" fill="none"/>
<path d="M1551 253.4V262.3" stroke="#808080" stroke-width="1.35" fill="none"/>
<path d="M1547.1 253.4H1554.9" stroke="#808080" stroke-width="1.3" fill="none"/>
<path d="M1551 278.1V294.5" stroke="#808080" stroke-width="1.35" fill="none"/>
<path d="M1547.1 294.5H1554.9" stroke="#808080" stroke-width="1.3" fill="none"/>
<path d="M1551 320.9V335.6" stroke="#555" stroke-width="1.35" fill="none"/>
<path d="M1547.1 320.9H1554.9" stroke="#555" stroke-width="1.3" fill="none"/>
<path d="M1551 351.4V356.6" stroke="#555" stroke-width="1.35" fill="none"/>
<path d="M1551 357.5V371.5" stroke="#000000" stroke-width="1.35" fill="none"/>
<path d="M1547.1 360.5H1554.9M1547.1 368.1H1554.9" stroke="#000000" stroke-width="1.3" fill="none"/>
<path d="M1551 372.3V380.5" stroke="#000000" stroke-width="1.35" fill="none"/>
<path d="M1547.1 380.5H1554.9" stroke="#000000" stroke-width="1.3" fill="none"/>
<path d="M1651 236.3V249.3" stroke="#000000" stroke-width="1.35" fill="none"/>
<path d="M1647.1 242.8H1654.9" stroke="#000000" stroke-width="1.3" fill="none"/>
<path d="M1651 259.6V263.7" stroke="#222" stroke-width="1.35" fill="none"/>
<path d="M1647.1 259.6H1654.9" stroke="#222" stroke-width="1.3" fill="none"/>
<path d="M1651 279.5V287.4" stroke="#222" stroke-width="1.35" fill="none"/>
<path d="M1647.1 287.4H1654.9" stroke="#222" stroke-width="1.3" fill="none"/>
<path d="M1651 342V347" stroke="#222" stroke-width="1.35" fill="none"/>
<path d="M1647.1 342H1654.9" stroke="#222" stroke-width="1.3" fill="none"/>
<path d="M1651 361.5V376" stroke="#000000" stroke-width="1.35" fill="none"/>
<path d="M1647.1 365H1654.9M1647.1 372.2H1654.9M1647.1 374.9H1654.9" stroke="#000000" stroke-width="1.3" fill="none"/>
<path d="M1651 394.6V403.5" stroke="#222" stroke-width="1.35" fill="none"/>
<path d="M1647.1 403.5H1654.9" stroke="#222" stroke-width="1.3" fill="none"/>
<path d="M1779.1 244.3V257.2" stroke="#000000" stroke-width="1.35" fill="none"/>
<path d="M1775.2 250.4H1783M1775.2 251.4H1783" stroke="#000000" stroke-width="1.3" fill="none"/>
<path d="M1779.1 281.5V294.5" stroke="#555" stroke-width="1.35" fill="none"/>
<path d="M1775.2 285H1783M1775.2 290.7H1783" stroke="#555" stroke-width="1.3" fill="none"/>
<path d="M1779.1 353.3V362.6" stroke="#555" stroke-width="1.35" fill="none"/>
<path d="M1775.2 353.3H1783" stroke="#555" stroke-width="1.3" fill="none"/>
<path d="M1779.1 378.4V397.9" stroke="#222" stroke-width="1.35" fill="none"/>
<path d="M1775.2 396.3H1783" stroke="#222" stroke-width="1.3" fill="none"/>
<path d="M1779.1 397.7V400.6" stroke="#000000" stroke-width="1.35" fill="none"/>
<path d="M1775.2 400.6H1783" stroke="#000000" stroke-width="1.3" fill="none"/>
<path d="M1779.1 411.4V413.9" stroke="#000000" stroke-width="1.35" fill="none"/>
<path d="M1775.2 411.4H1783" stroke="#000000" stroke-width="1.3" fill="none"/>
<line x1="1618" y1="88.4" x2="1660.5" y2="88.4" stroke="#000000" stroke-width="1.1"/>
<circle cx="1639.2" cy="88.4" r="8.15" fill="#d4697a" stroke="#000000" stroke-width="1.3"/>
<text x="1665.48" y="95" font-size="19.6" fill="#000000" textLength="97.66" lengthAdjust="spacingAndGlyphs" stroke="#000000" stroke-width="0.2">TpPa-SO<tspan dx="0" dy="7.2" font-size="11.76">3</tspan><tspan dy="-7.2">H</tspan></text>
<line x1="1618" y1="111.8" x2="1660.5" y2="111.8" stroke="#000000" stroke-width="1.1"/>
<circle cx="1639.2" cy="111.8" r="8.15" fill="#b1b1b1" stroke="#000000" stroke-width="1.3"/>
<text x="1665.47" y="118.75" font-size="19.6" fill="#000000" textLength="101.88" lengthAdjust="spacingAndGlyphs" stroke="#000000" stroke-width="0.2">TpBD-SO<tspan dx="0" dy="9.2" font-size="11.76">3</tspan><tspan dy="-9.2">H</tspan></text>
<line x1="1618" y1="135.2" x2="1660.5" y2="135.2" stroke="#000000" stroke-width="1.1"/>
<circle cx="1639.2" cy="135.2" r="8.15" fill="#a9c7ea" stroke="#000000" stroke-width="1.3"/>
<text x="1664.39" y="142.5" font-size="19.6" fill="#000000" textLength="112.72" lengthAdjust="spacingAndGlyphs" stroke="#000000" stroke-width="0.2">FKS-PET-130</text>
<line x1="1618" y1="158.55" x2="1660.5" y2="158.55" stroke="#000000" stroke-width="1.1"/>
<circle cx="1639.2" cy="158.55" r="8.15" fill="#84bb82" stroke="#000000" stroke-width="1.3"/>
<text x="1664.95" y="166.1" font-size="19.6" fill="#000000" textLength="96.31" lengthAdjust="spacingAndGlyphs" stroke="#000000" stroke-width="0.2">CMI-7000S</text>
<line x1="1618" y1="181.75" x2="1660.5" y2="181.75" stroke="#000000" stroke-width="1.1"/>
<circle cx="1639.2" cy="181.75" r="8.15" fill="#f7941d" stroke="#000000" stroke-width="1.3"/>
<text x="1664.22" y="189.5" font-size="19.6" fill="#000000" textLength="64.67" lengthAdjust="spacingAndGlyphs" stroke="#000000" stroke-width="0.2">MXene</text>
<rect x="78.3" y="541.1" width="1755.4" height="104.6" fill="#f8e9e9"/>
<rect x="78.8" y="673.5" width="1754.9" height="43.4" fill="#ecf0f9"/>
<line x1="70.6" y1="535.5" x2="1843" y2="535.5" stroke="#000000" stroke-width="1.3"/>
<line x1="77.2" y1="535.5" x2="77.2" y2="913.1" stroke="#1c1c1c" stroke-width="1.45"/>
<line x1="1834.5" y1="535.5" x2="1834.5" y2="913.1" stroke="#000000" stroke-width="1.5"/>
<line x1="70.6" y1="905.1" x2="1843" y2="905.1" stroke="#000000" stroke-width="1.4"/>
<text x="47.96" y="909.3" font-size="19.6" fill="#000000" stroke="#000000" stroke-width="0.3">0</text>
<line x1="73.4" y1="858.9" x2="77.2" y2="858.9" stroke="#000000" stroke-width="1.1"/>
<line x1="70.6" y1="812.7" x2="77.2" y2="812.7" stroke="#000000" stroke-width="1.1"/>
<text x="48.2" y="816.9" font-size="19.6" fill="#000000" stroke="#000000" stroke-width="0.3">2</text>
<line x1="73.4" y1="766.5" x2="77.2" y2="766.5" stroke="#000000" stroke-width="1.1"/>
<line x1="70.6" y1="720.3" x2="77.2" y2="720.3" stroke="#000000" stroke-width="1.1"/>
<text x="47.76" y="724.5" font-size="19.6" fill="#000000" stroke="#000000" stroke-width="0.3">4</text>
<line x1="73.4" y1="674.1" x2="77.2" y2="674.1" stroke="#000000" stroke-width="1.1"/>
<line x1="70.6" y1="627.9" x2="77.2" y2="627.9" stroke="#000000" stroke-width="1.1"/>
<text x="48.05" y="632.1" font-size="19.6" fill="#000000" stroke="#000000" stroke-width="0.3">6</text>
<line x1="73.4" y1="581.7" x2="77.2" y2="581.7" stroke="#000000" stroke-width="1.1"/>
<text x="48.05" y="539.7" font-size="19.6" fill="#000000" stroke="#000000" stroke-width="0.3">8</text>
<text x="1849.72" y="909.7" font-size="19.6" fill="#000000" stroke="#000000" stroke-width="0.3">0</text>
<line x1="1834.5" y1="868.14" x2="1839.2" y2="868.14" stroke="#000000" stroke-width="1.1"/>
<line x1="1834.5" y1="831.18" x2="1843" y2="831.18" stroke="#000000" stroke-width="1.1"/>
<text x="1849.52" y="835.78" font-size="19.6" fill="#000000" stroke="#000000" stroke-width="0.3">20</text>
<line x1="1834.5" y1="794.22" x2="1839.2" y2="794.22" stroke="#000000" stroke-width="1.1"/>
<line x1="1834.5" y1="757.26" x2="1843" y2="757.26" stroke="#000000" stroke-width="1.1"/>
<text x="1850.06" y="761.86" font-size="19.6" fill="#000000" stroke="#000000" stroke-width="0.3">40</text>
<line x1="1834.5" y1="720.3" x2="1839.2" y2="720.3" stroke="#000000" stroke-width="1.1"/>
<line x1="1834.5" y1="683.34" x2="1843" y2="683.34" stroke="#000000" stroke-width="1.1"/>
<text x="1849.52" y="687.94" font-size="19.6" fill="#000000" stroke="#000000" stroke-width="0.3">60</text>
<line x1="1834.5" y1="646.38" x2="1839.2" y2="646.38" stroke="#000000" stroke-width="1.1"/>
<line x1="1834.5" y1="609.42" x2="1843" y2="609.42" stroke="#000000" stroke-width="1.1"/>
<text x="1849.67" y="614.02" font-size="19.6" fill="#000000" stroke="#000000" stroke-width="0.3">80</text>
<line x1="1834.5" y1="572.46" x2="1839.2" y2="572.46" stroke="#000000" stroke-width="1.1"/>
<text x="1849.63" y="540.1" font-size="19.6" fill="#000000" stroke="#000000" stroke-width="0.3">100</text>
<text x="68.84" y="943.4" font-size="19.6" fill="#000000" stroke="#000000" stroke-width="0.3">0</text>
<line x1="135.78" y1="905.1" x2="135.78" y2="909.5" stroke="#000000" stroke-width="1.1"/>
<line x1="194.35" y1="905.1" x2="194.35" y2="913.1" stroke="#000000" stroke-width="1.2"/>
<text x="181.5" y="943.4" font-size="19.6" fill="#000000" stroke="#000000" stroke-width="0.3">10</text>
<line x1="252.93" y1="905.1" x2="252.93" y2="909.5" stroke="#000000" stroke-width="1.1"/>
<line x1="311.5" y1="905.1" x2="311.5" y2="913.1" stroke="#000000" stroke-width="1.2"/>
<text x="298.2" y="943.4" font-size="19.6" fill="#000000" stroke="#000000" stroke-width="0.3">20</text>
<line x1="370.07" y1="905.1" x2="370.07" y2="909.5" stroke="#000000" stroke-width="1.1"/>
<line x1="428.65" y1="905.1" x2="428.65" y2="913.1" stroke="#000000" stroke-width="1.2"/>
<text x="415.77" y="943.4" font-size="19.6" fill="#000000" stroke="#000000" stroke-width="0.3">30</text>
<line x1="487.22" y1="905.1" x2="487.22" y2="909.5" stroke="#000000" stroke-width="1.1"/>
<line x1="545.8" y1="905.1" x2="545.8" y2="913.1" stroke="#000000" stroke-width="1.2"/>
<text x="533.37" y="943.4" font-size="19.6" fill="#000000" stroke="#000000" stroke-width="0.3">40</text>
<line x1="604.38" y1="905.1" x2="604.38" y2="909.5" stroke="#000000" stroke-width="1.1"/>
<line x1="662.95" y1="905.1" x2="662.95" y2="913.1" stroke="#000000" stroke-width="1.2"/>
<text x="650.65" y="943.4" font-size="19.6" fill="#000000" stroke="#000000" stroke-width="0.3">50</text>
<line x1="721.53" y1="905.1" x2="721.53" y2="909.5" stroke="#000000" stroke-width="1.1"/>
<line x1="780.1" y1="905.1" x2="780.1" y2="913.1" stroke="#000000" stroke-width="1.2"/>
<text x="768" y="943.4" font-size="19.6" fill="#000000" stroke="#000000" stroke-width="0.3">60</text>
<line x1="838.68" y1="905.1" x2="838.68" y2="909.5" stroke="#000000" stroke-width="1.1"/>
<line x1="897.25" y1="905.1" x2="897.25" y2="913.1" stroke="#000000" stroke-width="1.2"/>
<text x="885.45" y="943.4" font-size="19.6" fill="#000000" stroke="#000000" stroke-width="0.3">70</text>
<line x1="955.83" y1="905.1" x2="955.83" y2="909.5" stroke="#000000" stroke-width="1.1"/>
<line x1="1014.4" y1="905.1" x2="1014.4" y2="913.1" stroke="#000000" stroke-width="1.2"/>
<text x="1002.97" y="943.4" font-size="19.6" fill="#000000" stroke="#000000" stroke-width="0.3">80</text>
<line x1="1072.97" y1="905.1" x2="1072.97" y2="909.5" stroke="#000000" stroke-width="1.1"/>
<line x1="1131.55" y1="905.1" x2="1131.55" y2="913.1" stroke="#000000" stroke-width="1.2"/>
<text x="1120.37" y="943.4" font-size="19.6" fill="#000000" stroke="#000000" stroke-width="0.3">90</text>
<line x1="1190.12" y1="905.1" x2="1190.12" y2="909.5" stroke="#000000" stroke-width="1.1"/>
<line x1="1248.7" y1="905.1" x2="1248.7" y2="913.1" stroke="#000000" stroke-width="1.2"/>
<text x="1233.09" y="943.4" font-size="19.6" fill="#000000" stroke="#000000" stroke-width="0.3">100</text>
<line x1="1307.28" y1="905.1" x2="1307.28" y2="909.5" stroke="#000000" stroke-width="1.1"/>
<line x1="1365.85" y1="905.1" x2="1365.85" y2="913.1" stroke="#000000" stroke-width="1.2"/>
<text x="1351.28" y="943.4" font-size="19.6" fill="#000000" stroke="#000000" stroke-width="0.3">110</text>
<line x1="1424.42" y1="905.1" x2="1424.42" y2="909.5" stroke="#000000" stroke-width="1.1"/>
<line x1="1483" y1="905.1" x2="1483" y2="913.1" stroke="#000000" stroke-width="1.2"/>
<text x="1467.99" y="943.4" font-size="19.6" fill="#000000" stroke="#000000" stroke-width="0.3">120</text>
<line x1="1541.58" y1="905.1" x2="1541.58" y2="909.5" stroke="#000000" stroke-width="1.1"/>
<line x1="1600.15" y1="905.1" x2="1600.15" y2="913.1" stroke="#000000" stroke-width="1.2"/>
<text x="1585.44" y="943.4" font-size="19.6" fill="#000000" stroke="#000000" stroke-width="0.3">130</text>
<line x1="1658.73" y1="905.1" x2="1658.73" y2="909.5" stroke="#000000" stroke-width="1.1"/>
<line x1="1717.3" y1="905.1" x2="1717.3" y2="913.1" stroke="#000000" stroke-width="1.2"/>
<text x="1702.89" y="943.4" font-size="19.6" fill="#000000" stroke="#000000" stroke-width="0.3">140</text>
<line x1="1775.88" y1="905.1" x2="1775.88" y2="909.5" stroke="#000000" stroke-width="1.1"/>
<text x="1820.34" y="943.4" font-size="19.6" fill="#000000" stroke="#000000" stroke-width="0.3">150</text>
<g transform="translate(26.8 896.6) rotate(-90)">
<text x="-1.71" y="0" font-size="19.6" fill="#000000" textLength="90" lengthAdjust="spacingAndGlyphs" stroke="#000000" stroke-width="0.2">Maximum</text>
<text x="92.83" y="0" font-size="19.6" fill="#000000" textLength="61.73" lengthAdjust="spacingAndGlyphs" stroke="#000000" stroke-width="0.2">output</text>
<text x="159.1" y="0" font-size="19.6" fill="#000000" textLength="57.45" lengthAdjust="spacingAndGlyphs" stroke="#000000" stroke-width="0.2">power</text>
<text x="221.09" y="0" font-size="19.6" fill="#000000" textLength="65.37" lengthAdjust="spacingAndGlyphs" stroke="#000000" stroke-width="0.2">density</text>
<text x="291" y="0" font-size="19.6" fill="#000000" textLength="24.2" lengthAdjust="spacingAndGlyphs" stroke="#000000" stroke-width="0.2">(W</text>
<text x="319.74" y="0" font-size="19.6" fill="#000000" textLength="34.48" lengthAdjust="spacingAndGlyphs" stroke="#000000" stroke-width="0.2">m<tspan dx="0" dy="-6.8" font-size="11.76">-2</tspan><tspan dy="6.8">)</tspan></text>
</g>
<g transform="translate(1897.7 861) rotate(-90)">
<text x="-1.72" y="0" font-size="19.6" fill="#000000" textLength="147.52" lengthAdjust="spacingAndGlyphs" stroke="#000000" stroke-width="0.2">Diffusio-osmotic</text>
<text x="150.36" y="0" font-size="19.6" fill="#000000" textLength="81.43" lengthAdjust="spacingAndGlyphs" stroke="#000000" stroke-width="0.2">potential</text>
<text x="236.35" y="0" font-size="19.6" fill="#000000" textLength="42.14" lengthAdjust="spacingAndGlyphs" stroke="#000000" stroke-width="0.2">(mV)</text>
</g>
<g>
<text x="921.94" y="967.3" font-size="19.6" fill="#000000" textLength="44.55" lengthAdjust="spacingAndGlyphs" stroke="#000000" stroke-width="0.2">Time</text>
<text x="971.07" y="967.3" font-size="19.6" fill="#000000" textLength="24.22" lengthAdjust="spacingAndGlyphs" stroke="#000000" stroke-width="0.2">(h)</text>
</g>
<path d="M225.6 635.2V657.3H178" stroke="#d4697a" stroke-width="1.4" fill="none"/>
<path d="M168.9 657.3L183.2 661.6L179.7 657.3L183.2 653Z" fill="#d4697a"/>
<path d="M1589.8 713V734.6H1655" stroke="#000000" stroke-width="1.4" fill="none"/>
<path d="M1666.6 734.6L1652.3 730.1L1655.6 734.6L1652.3 739.1Z" fill="#000000"/>
<path d="M390.69 694.28L395.18 695.47M414.45 697.83L418.29 697.77M437.89 697.6L441.73 697.6M461.33 697.56L465.16 697.54M484.76 697.29L488.6 697.21M507.58 693.57L512.65 691.68M531.42 690.29L535.69 691.21M554.91 695L582.5 700M601.48 698.76L629.68 689.74M648.54 689.04L676.36 695.71M695.69 697.9L722.96 697.6M742.56 697.4L769.83 697.1M789.38 696.01L816.75 693.24M836.3 692.2L863.57 692.05M883.06 693.5L910.56 697.75M929.99 700.29L957.37 703.21M976.92 704.04L1004.19 703.46M1023.53 701.01L1051.32 694.49M1070.61 693.24L1097.98 696.01M1117.53 697.21L1144.81 697.79M1164.4 697.79L1191.68 697.21M1211.28 697.1L1238.55 697.4M1258.14 697.81L1379.17 701.69M1398.75 701.39L1519.8 693.86M1539.38 693.25L1660.4 693.25M1680 693.34L1801.01 694.41" stroke="#000000" stroke-width="1.15" fill="none"/>
<path d="M187.62 583.6L188.12 582.8M198.63 583.2L200.54 586.85M388.95 589L396.93 596.5M415.18 602.47L417.57 602.18M438.68 600.54L440.93 600.46M459.71 593.36L466.78 587.54M483.25 587.41L490.11 592.89M508.79 601.61L511.45 602.14M528.16 595.75L538.94 581.25M555.76 574.26L581.65 577.99M601.52 574.55L629.64 559.7M646.21 562.54L678.69 597.71M696.47 606.06L722.17 607.44M743.34 607.44L769.05 606.06M790.21 606.12L815.92 607.63M836.81 605.78L863.07 599.47M883.96 597.56L909.66 598.94M930.84 599.67L956.52 600.08M977.12 603.77L1003.99 613.23M1024.25 614.07L1050.61 607.18M1071.35 606.01L1097.24 609.74M1118.32 611.81L1144.02 613.19M1165.2 613.47L1190.88 612.78M1212.07 612.1L1237.76 611.15M1258.95 610.62L1378.37 609.13M1399.55 609.51L1518.99 615.24M1540 613.77L1659.78 590.98M1680.78 589.58L1800.23 596.17" stroke="#000000" stroke-width="1.15" fill="none"/>
<rect x="82.17" y="686.65" width="12.2" height="12.2" fill="#a9c7ea" stroke="#000000" stroke-width="1.3"/>
<rect x="93.89" y="688.65" width="12.2" height="12.2" fill="#a9c7ea" stroke="#000000" stroke-width="1.3"/>
<rect x="105.6" y="686.65" width="12.2" height="12.2" fill="#a9c7ea" stroke="#000000" stroke-width="1.3"/>
<rect x="117.32" y="684.9" width="12.2" height="12.2" fill="#a9c7ea" stroke="#000000" stroke-width="1.3"/>
<rect x="129.04" y="684.9" width="12.2" height="12.2" fill="#a9c7ea" stroke="#000000" stroke-width="1.3"/>
<rect x="140.76" y="687.4" width="12.2" height="12.2" fill="#a9c7ea" stroke="#000000" stroke-width="1.3"/>
<rect x="152.48" y="687.15" width="12.2" height="12.2" fill="#a9c7ea" stroke="#000000" stroke-width="1.3"/>
<rect x="164.19" y="683.4" width="12.2" height="12.2" fill="#a9c7ea" stroke="#000000" stroke-width="1.3"/>
<rect x="175.91" y="692.15" width="12.2" height="12.2" fill="#a9c7ea" stroke="#000000" stroke-width="1.3"/>
<rect x="187.63" y="682.15" width="12.2" height="12.2" fill="#a9c7ea" stroke="#000000" stroke-width="1.3"/>
<rect x="199.35" y="685.9" width="12.2" height="12.2" fill="#a9c7ea" stroke="#000000" stroke-width="1.3"/>
<rect x="211.07" y="687.15" width="12.2" height="12.2" fill="#a9c7ea" stroke="#000000" stroke-width="1.3"/>
<rect x="222.78" y="680.65" width="12.2" height="12.2" fill="#a9c7ea" stroke="#000000" stroke-width="1.3"/>
<rect x="234.5" y="683.15" width="12.2" height="12.2" fill="#a9c7ea" stroke="#000000" stroke-width="1.3"/>
<rect x="246.22" y="682.65" width="12.2" height="12.2" fill="#a9c7ea" stroke="#000000" stroke-width="1.3"/>
<rect x="257.94" y="680.65" width="12.2" height="12.2" fill="#a9c7ea" stroke="#000000" stroke-width="1.3"/>
<rect x="269.66" y="680.65" width="12.2" height="12.2" fill="#a9c7ea" stroke="#000000" stroke-width="1.3"/>
<rect x="281.37" y="682.65" width="12.2" height="12.2" fill="#a9c7ea" stroke="#000000" stroke-width="1.3"/>
<rect x="293.09" y="680.65" width="12.2" height="12.2" fill="#a9c7ea" stroke="#000000" stroke-width="1.3"/>
<rect x="304.81" y="682.15" width="12.2" height="12.2" fill="#a9c7ea" stroke="#000000" stroke-width="1.3"/>
<rect x="316.53" y="687.9" width="12.2" height="12.2" fill="#a9c7ea" stroke="#000000" stroke-width="1.3"/>
<rect x="328.25" y="687.15" width="12.2" height="12.2" fill="#a9c7ea" stroke="#000000" stroke-width="1.3"/>
<rect x="339.96" y="686.15" width="12.2" height="12.2" fill="#a9c7ea" stroke="#000000" stroke-width="1.3"/>
<rect x="351.68" y="683.65" width="12.2" height="12.2" fill="#a9c7ea" stroke="#000000" stroke-width="1.3"/>
<rect x="363.4" y="683.65" width="12.2" height="12.2" fill="#a9c7ea" stroke="#000000" stroke-width="1.3"/>
<rect x="375.12" y="685.65" width="12.2" height="12.2" fill="#a9c7ea" stroke="#000000" stroke-width="1.3"/>
<rect x="398.55" y="691.9" width="12.2" height="12.2" fill="#a9c7ea" stroke="#000000" stroke-width="1.3"/>
<rect x="421.99" y="691.5" width="12.2" height="12.2" fill="#a9c7ea" stroke="#000000" stroke-width="1.3"/>
<rect x="445.43" y="691.5" width="12.2" height="12.2" fill="#a9c7ea" stroke="#000000" stroke-width="1.3"/>
<rect x="468.86" y="691.4" width="12.2" height="12.2" fill="#a9c7ea" stroke="#000000" stroke-width="1.3"/>
<rect x="492.3" y="690.9" width="12.2" height="12.2" fill="#a9c7ea" stroke="#000000" stroke-width="1.3"/>
<rect x="515.73" y="682.15" width="12.2" height="12.2" fill="#a9c7ea" stroke="#000000" stroke-width="1.3"/>
<rect x="539.17" y="687.15" width="12.2" height="12.2" fill="#a9c7ea" stroke="#000000" stroke-width="1.3"/>
<rect x="586.04" y="695.65" width="12.2" height="12.2" fill="#a9c7ea" stroke="#000000" stroke-width="1.3"/>
<rect x="632.91" y="680.65" width="12.2" height="12.2" fill="#a9c7ea" stroke="#000000" stroke-width="1.3"/>
<rect x="679.79" y="691.9" width="12.2" height="12.2" fill="#a9c7ea" stroke="#000000" stroke-width="1.3"/>
<rect x="726.66" y="691.4" width="12.2" height="12.2" fill="#a9c7ea" stroke="#000000" stroke-width="1.3"/>
<rect x="773.53" y="690.9" width="12.2" height="12.2" fill="#a9c7ea" stroke="#000000" stroke-width="1.3"/>
<rect x="820.4" y="686.15" width="12.2" height="12.2" fill="#a9c7ea" stroke="#000000" stroke-width="1.3"/>
<rect x="867.27" y="685.9" width="12.2" height="12.2" fill="#a9c7ea" stroke="#000000" stroke-width="1.3"/>
<rect x="914.15" y="693.15" width="12.2" height="12.2" fill="#a9c7ea" stroke="#000000" stroke-width="1.3"/>
<rect x="961.02" y="698.15" width="12.2" height="12.2" fill="#a9c7ea" stroke="#000000" stroke-width="1.3"/>
<rect x="1007.89" y="697.15" width="12.2" height="12.2" fill="#a9c7ea" stroke="#000000" stroke-width="1.3"/>
<rect x="1054.76" y="686.15" width="12.2" height="12.2" fill="#a9c7ea" stroke="#000000" stroke-width="1.3"/>
<rect x="1101.63" y="690.9" width="12.2" height="12.2" fill="#a9c7ea" stroke="#000000" stroke-width="1.3"/>
<rect x="1148.51" y="691.9" width="12.2" height="12.2" fill="#a9c7ea" stroke="#000000" stroke-width="1.3"/>
<rect x="1195.38" y="690.9" width="12.2" height="12.2" fill="#a9c7ea" stroke="#000000" stroke-width="1.3"/>
<rect x="1242.25" y="691.4" width="12.2" height="12.2" fill="#a9c7ea" stroke="#000000" stroke-width="1.3"/>
<rect x="1382.87" y="695.9" width="12.2" height="12.2" fill="#a9c7ea" stroke="#000000" stroke-width="1.3"/>
<rect x="1523.48" y="687.15" width="12.2" height="12.2" fill="#a9c7ea" stroke="#000000" stroke-width="1.3"/>
<rect x="1664.1" y="687.15" width="12.2" height="12.2" fill="#a9c7ea" stroke="#000000" stroke-width="1.3"/>
<rect x="1804.71" y="688.4" width="12.2" height="12.2" fill="#a9c7ea" stroke="#000000" stroke-width="1.3"/>
<path d="M88.27 686.25V691.15M84.67 691.15H91.87M88.27 699.25V694.35M84.67 694.35H91.87" stroke="#000000" stroke-width="1.15" fill="none"/>
<path d="M99.99 688.25V693.95M96.39 693.95H103.59M99.99 701.25V695.55M96.39 695.55H103.59" stroke="#000000" stroke-width="1.15" fill="none"/>
<path d="M111.7 686.25V687.55M108.1 687.55H115.3M111.7 699.25V697.95M108.1 697.95H115.3" stroke="#000000" stroke-width="1.15" fill="none"/>
<path d="M123.42 684.5V687.5M119.82 687.5H127.02M123.42 697.5V694.5M119.82 694.5H127.02" stroke="#000000" stroke-width="1.15" fill="none"/>
<path d="M135.14 684.5V687.5M131.54 687.5H138.74M135.14 697.5V694.5M131.54 694.5H138.74" stroke="#000000" stroke-width="1.15" fill="none"/>
<path d="M146.86 687V687.3M143.26 687.3H150.46M146.86 700V699.7M143.26 699.7H150.46" stroke="#000000" stroke-width="1.15" fill="none"/>
<path d="M158.58 686.75V687.05M154.98 687.05H162.18M158.58 699.75V699.45M154.98 699.45H162.18" stroke="#000000" stroke-width="1.15" fill="none"/>
<path d="M170.29 683V687M166.69 687H173.89M170.29 696V692M166.69 692H173.89" stroke="#000000" stroke-width="1.15" fill="none"/>
<path d="M178.41 691.65H185.61M178.41 704.85H185.61" stroke="#000000" stroke-width="1.15" fill="none"/>
<path d="M193.73 681.75V685.25M190.13 685.25H197.33M193.73 694.75V691.25M190.13 691.25H197.33" stroke="#000000" stroke-width="1.15" fill="none"/>
<path d="M205.45 685.5V689M201.85 689H209.05M205.45 698.5V695M201.85 695H209.05" stroke="#000000" stroke-width="1.15" fill="none"/>
<path d="M217.17 686.75V687.05M213.57 687.05H220.77M217.17 699.75V699.45M213.57 699.45H220.77" stroke="#000000" stroke-width="1.15" fill="none"/>
<path d="M240.6 682.75V686.75M237 686.75H244.2M240.6 695.75V691.75M237 691.75H244.2" stroke="#000000" stroke-width="1.15" fill="none"/>
<path d="M252.32 682.25V685.75M248.72 685.75H255.92M252.32 695.25V691.75M248.72 691.75H255.92" stroke="#000000" stroke-width="1.15" fill="none"/>
<path d="M275.76 680.25V685.95M272.16 685.95H279.36M275.76 693.25V687.55M272.16 687.55H279.36" stroke="#000000" stroke-width="1.15" fill="none"/>
<path d="M287.47 682.25V686.25M283.87 686.25H291.07M287.47 695.25V691.25M283.87 691.25H291.07" stroke="#000000" stroke-width="1.15" fill="none"/>
<path d="M299.19 680.25V685.95M295.59 685.95H302.79M299.19 693.25V687.55M295.59 687.55H302.79" stroke="#000000" stroke-width="1.15" fill="none"/>
<path d="M310.91 681.75V685.75M307.31 685.75H314.51M310.91 694.75V690.75M307.31 690.75H314.51" stroke="#000000" stroke-width="1.15" fill="none"/>
<path d="M330.75 686.95H337.95M330.75 699.55H337.95" stroke="#000000" stroke-width="1.15" fill="none"/>
<path d="M342.46 685.95H349.66M342.46 698.55H349.66" stroke="#000000" stroke-width="1.15" fill="none"/>
<path d="M357.78 683.25V687.25M354.18 687.25H361.38M357.78 696.25V692.25M354.18 692.25H361.38" stroke="#000000" stroke-width="1.15" fill="none"/>
<path d="M369.5 683.25V687.25M365.9 687.25H373.1M369.5 696.25V692.25M365.9 692.25H373.1" stroke="#000000" stroke-width="1.15" fill="none"/>
<path d="M381.22 685.25V686.55M377.62 686.55H384.82M381.22 698.25V696.95M377.62 696.95H384.82" stroke="#000000" stroke-width="1.15" fill="none"/>
<path d="M428.09 691.1V695.6M424.49 695.6H431.69M428.09 704.1V699.6M424.49 699.6H431.69" stroke="#000000" stroke-width="1.15" fill="none"/>
<path d="M451.53 691.1V695.6M447.93 695.6H455.13M451.53 704.1V699.6M447.93 699.6H455.13" stroke="#000000" stroke-width="1.15" fill="none"/>
<path d="M474.96 691V695.5M471.36 695.5H478.56M474.96 704V699.5M471.36 699.5H478.56" stroke="#000000" stroke-width="1.15" fill="none"/>
<path d="M498.4 690.5V693.8M494.8 693.8H502M498.4 703.5V700.2M494.8 700.2H502" stroke="#000000" stroke-width="1.15" fill="none"/>
<path d="M521.83 681.75V685.25M518.23 685.25H525.43M521.83 694.75V691.25M518.23 691.25H525.43" stroke="#000000" stroke-width="1.15" fill="none"/>
<path d="M541.67 686.45H548.87M541.67 700.05H548.87" stroke="#000000" stroke-width="1.15" fill="none"/>
<path d="M732.76 691V695.5M729.16 695.5H736.36M732.76 704V699.5M729.16 699.5H736.36" stroke="#000000" stroke-width="1.15" fill="none"/>
<path d="M779.63 690.5V694M776.03 694H783.23M779.63 703.5V700M776.03 700H783.23" stroke="#000000" stroke-width="1.15" fill="none"/>
<path d="M822.9 685.95H830.1M822.9 698.55H830.1" stroke="#000000" stroke-width="1.15" fill="none"/>
<path d="M869.77 685.7H876.97M869.77 698.3H876.97" stroke="#000000" stroke-width="1.15" fill="none"/>
<path d="M920.25 692.75V694.05M916.65 694.05H923.85M920.25 705.75V704.45M916.65 704.45H923.85" stroke="#000000" stroke-width="1.15" fill="none"/>
<path d="M967.12 697.75V701.25M963.52 701.25H970.72M967.12 710.75V707.25M963.52 707.25H970.72" stroke="#000000" stroke-width="1.15" fill="none"/>
<path d="M1013.99 696.75V696.05M1010.39 696.05H1017.59M1013.99 709.75V710.45M1010.39 710.45H1017.59" stroke="#000000" stroke-width="1.15" fill="none"/>
<path d="M1060.86 685.75V687.25M1057.26 687.25H1064.46M1060.86 698.75V697.25M1057.26 697.25H1064.46" stroke="#000000" stroke-width="1.15" fill="none"/>
<path d="M1107.73 690.5V694M1104.13 694H1111.33M1107.73 703.5V700M1104.13 700H1111.33" stroke="#000000" stroke-width="1.15" fill="none"/>
<path d="M1201.48 690.5V694M1197.88 694H1205.08M1201.48 703.5V700M1197.88 700H1205.08" stroke="#000000" stroke-width="1.15" fill="none"/>
<path d="M1248.35 691V695.5M1244.75 695.5H1251.95M1248.35 704V699.5M1244.75 699.5H1251.95" stroke="#000000" stroke-width="1.15" fill="none"/>
<path d="M1525.98 686.95H1533.18M1525.98 699.55H1533.18" stroke="#000000" stroke-width="1.15" fill="none"/>
<path d="M1666.6 686.95H1673.8M1666.6 699.55H1673.8" stroke="#000000" stroke-width="1.15" fill="none"/>
<circle cx="88.27" cy="608.8" r="6.65" fill="#d4697a" stroke="#000000" stroke-width="1.35"/>
<circle cx="99.99" cy="601.5" r="6.65" fill="#d4697a" stroke="#000000" stroke-width="1.35"/>
<circle cx="111.7" cy="611.4" r="6.65" fill="#d4697a" stroke="#000000" stroke-width="1.35"/>
<circle cx="123.42" cy="595.4" r="6.65" fill="#d4697a" stroke="#000000" stroke-width="1.35"/>
<circle cx="135.14" cy="596.9" r="6.65" fill="#d4697a" stroke="#000000" stroke-width="1.35"/>
<circle cx="146.86" cy="580.1" r="6.65" fill="#d4697a" stroke="#000000" stroke-width="1.35"/>
<circle cx="158.58" cy="591.7" r="6.65" fill="#d4697a" stroke="#000000" stroke-width="1.35"/>
<circle cx="170.29" cy="600.7" r="6.65" fill="#d4697a" stroke="#000000" stroke-width="1.35"/>
<circle cx="182.01" cy="592.6" r="6.65" fill="#d4697a" stroke="#000000" stroke-width="1.35"/>
<circle cx="193.73" cy="573.8" r="6.65" fill="#d4697a" stroke="#000000" stroke-width="1.35"/>
<circle cx="205.45" cy="596.25" r="6.65" fill="#d4697a" stroke="#000000" stroke-width="1.35"/>
<circle cx="217.17" cy="586.5" r="6.65" fill="#d4697a" stroke="#000000" stroke-width="1.35"/>
<circle cx="228.88" cy="604" r="6.65" fill="#d4697a" stroke="#000000" stroke-width="1.35"/>
<circle cx="240.6" cy="603" r="6.65" fill="#d4697a" stroke="#000000" stroke-width="1.35"/>
<circle cx="252.32" cy="601.75" r="6.65" fill="#d4697a" stroke="#000000" stroke-width="1.35"/>
<circle cx="264.04" cy="593.5" r="6.65" fill="#d4697a" stroke="#000000" stroke-width="1.35"/>
<circle cx="275.76" cy="595.25" r="6.65" fill="#d4697a" stroke="#000000" stroke-width="1.35"/>
<circle cx="287.47" cy="596" r="6.65" fill="#d4697a" stroke="#000000" stroke-width="1.35"/>
<circle cx="299.19" cy="593.5" r="6.65" fill="#d4697a" stroke="#000000" stroke-width="1.35"/>
<circle cx="310.91" cy="607" r="6.65" fill="#d4697a" stroke="#000000" stroke-width="1.35"/>
<circle cx="322.63" cy="611.75" r="6.65" fill="#d4697a" stroke="#000000" stroke-width="1.35"/>
<circle cx="334.35" cy="599.75" r="6.65" fill="#d4697a" stroke="#000000" stroke-width="1.35"/>
<circle cx="346.06" cy="582.5" r="6.65" fill="#d4697a" stroke="#000000" stroke-width="1.35"/>
<circle cx="357.78" cy="581.5" r="6.65" fill="#d4697a" stroke="#000000" stroke-width="1.35"/>
<circle cx="369.5" cy="580.75" r="6.65" fill="#d4697a" stroke="#000000" stroke-width="1.35"/>
<circle cx="381.22" cy="581.75" r="6.65" fill="#d4697a" stroke="#000000" stroke-width="1.35"/>
<circle cx="404.65" cy="603.75" r="6.65" fill="#d4697a" stroke="#000000" stroke-width="1.35"/>
<circle cx="428.09" cy="600.9" r="6.65" fill="#d4697a" stroke="#000000" stroke-width="1.35"/>
<circle cx="451.53" cy="600.1" r="6.65" fill="#d4697a" stroke="#000000" stroke-width="1.35"/>
<circle cx="474.96" cy="580.8" r="6.65" fill="#d4697a" stroke="#000000" stroke-width="1.35"/>
<circle cx="498.4" cy="599.5" r="6.65" fill="#d4697a" stroke="#000000" stroke-width="1.35"/>
<circle cx="521.83" cy="604.25" r="6.65" fill="#d4697a" stroke="#000000" stroke-width="1.35"/>
<circle cx="545.27" cy="572.75" r="6.65" fill="#d4697a" stroke="#000000" stroke-width="1.35"/>
<circle cx="592.14" cy="579.5" r="6.65" fill="#d4697a" stroke="#000000" stroke-width="1.35"/>
<circle cx="639.01" cy="554.75" r="6.65" fill="#d4697a" stroke="#000000" stroke-width="1.35"/>
<circle cx="685.89" cy="605.5" r="6.65" fill="#d4697a" stroke="#000000" stroke-width="1.35"/>
<circle cx="732.76" cy="608" r="6.65" fill="#d4697a" stroke="#000000" stroke-width="1.35"/>
<circle cx="779.63" cy="605.5" r="6.65" fill="#d4697a" stroke="#000000" stroke-width="1.35"/>
<circle cx="826.5" cy="608.25" r="6.65" fill="#d4697a" stroke="#000000" stroke-width="1.35"/>
<circle cx="873.37" cy="597" r="6.65" fill="#d4697a" stroke="#000000" stroke-width="1.35"/>
<circle cx="920.25" cy="599.5" r="6.65" fill="#d4697a" stroke="#000000" stroke-width="1.35"/>
<circle cx="967.12" cy="600.25" r="6.65" fill="#d4697a" stroke="#000000" stroke-width="1.35"/>
<circle cx="1013.99" cy="616.75" r="6.65" fill="#d4697a" stroke="#000000" stroke-width="1.35"/>
<circle cx="1060.86" cy="604.5" r="6.65" fill="#d4697a" stroke="#000000" stroke-width="1.35"/>
<circle cx="1107.73" cy="611.25" r="6.65" fill="#d4697a" stroke="#000000" stroke-width="1.35"/>
<circle cx="1154.61" cy="613.75" r="6.65" fill="#d4697a" stroke="#000000" stroke-width="1.35"/>
<circle cx="1201.48" cy="612.5" r="6.65" fill="#d4697a" stroke="#000000" stroke-width="1.35"/>
<circle cx="1248.35" cy="610.75" r="6.65" fill="#d4697a" stroke="#000000" stroke-width="1.35"/>
<circle cx="1388.97" cy="609" r="6.65" fill="#d4697a" stroke="#000000" stroke-width="1.35"/>
<circle cx="1529.58" cy="615.75" r="6.65" fill="#d4697a" stroke="#000000" stroke-width="1.35"/>
<circle cx="1670.2" cy="589" r="6.65" fill="#d4697a" stroke="#000000" stroke-width="1.35"/>
<circle cx="1810.81" cy="596.75" r="6.65" fill="#d4697a" stroke="#000000" stroke-width="1.35"/>
<path d="M99.99 594.45V584.3M96.19 584.3H103.79M99.99 608.55V618.7M96.19 618.7H103.79" stroke="#000000" stroke-width="1.15" fill="none"/>
<path d="M111.7 604.35V580.9M107.9 580.9H115.5M111.7 618.45V641.9M107.9 641.9H115.5" stroke="#222" stroke-width="1.15" fill="none"/>
<path d="M146.86 573.05V574.6M143.06 574.6H150.66M146.86 587.15V585.6M143.06 585.6H150.66" stroke="#000000" stroke-width="1.15" fill="none"/>
<path d="M182.01 585.55V572.7M178.21 572.7H185.81M182.01 599.65V612.5M178.21 612.5H185.81" stroke="#000000" stroke-width="1.15" fill="none"/>
<path d="M205.45 589.2V590.75M201.65 590.75H209.25M205.45 603.3V601.75M201.65 601.75H209.25" stroke="#000000" stroke-width="1.15" fill="none"/>
<path d="M228.88 596.95V589.8M225.08 589.8H232.68M228.88 611.05V618.2M225.08 618.2H232.68" stroke="#000000" stroke-width="1.15" fill="none"/>
<path d="M240.6 595.95V593M236.8 593H244.4M240.6 610.05V613M236.8 613H244.4" stroke="#000000" stroke-width="1.15" fill="none"/>
<path d="M252.32 594.7V590.05M248.52 590.05H256.12M252.32 608.8V613.45M248.52 613.45H256.12" stroke="#000000" stroke-width="1.15" fill="none"/>
<path d="M264.04 586.45V587.5M260.24 587.5H267.84M264.04 600.55V599.5M260.24 599.5H267.84" stroke="#000000" stroke-width="1.15" fill="none"/>
<path d="M275.76 588.2V591.75M271.96 591.75H279.56M275.76 602.3V598.75M271.96 598.75H279.56" stroke="#000000" stroke-width="1.15" fill="none"/>
<path d="M287.47 588.95V593.5M283.67 593.5H291.27M287.47 603.05V598.5M283.67 598.5H291.27" stroke="#000000" stroke-width="1.15" fill="none"/>
<path d="M299.19 586.45V587M295.39 587H302.99M299.19 600.55V600M295.39 600H302.99" stroke="#000000" stroke-width="1.15" fill="none"/>
<path d="M310.91 599.95V582.3M307.11 582.3H314.71M310.91 614.05V631.7M307.11 631.7H314.71" stroke="#222" stroke-width="1.15" fill="none"/>
<path d="M322.63 604.7V602.75M318.83 602.75H326.43M322.63 618.8V620.75M318.83 620.75H326.43" stroke="#000000" stroke-width="1.15" fill="none"/>
<path d="M334.35 592.7V594.25M330.55 594.25H338.15M334.35 606.8V605.25M330.55 605.25H338.15" stroke="#000000" stroke-width="1.15" fill="none"/>
<path d="M346.06 575.45V563.5M342.26 563.5H349.86M346.06 589.55V601.5M342.26 601.5H349.86" stroke="#000000" stroke-width="1.15" fill="none"/>
<path d="M357.78 574.45V575M353.98 575H361.58M357.78 588.55V588M353.98 588H361.58" stroke="#000000" stroke-width="1.15" fill="none"/>
<path d="M369.5 573.7V576.25M365.7 576.25H373.3M369.5 587.8V585.25M365.7 585.25H373.3" stroke="#000000" stroke-width="1.15" fill="none"/>
<path d="M381.22 574.7V569.15M377.42 569.15H385.02M381.22 588.8V594.35M377.42 594.35H385.02" stroke="#000000" stroke-width="1.15" fill="none"/>
<path d="M404.65 596.7V598.25M400.85 598.25H408.45M404.65 610.8V609.25M400.85 609.25H408.45" stroke="#000000" stroke-width="1.15" fill="none"/>
<path d="M428.09 593.85V595.4M424.29 595.4H431.89M428.09 607.95V606.4M424.29 606.4H431.89" stroke="#000000" stroke-width="1.15" fill="none"/>
<path d="M451.53 593.05V591.6M447.73 591.6H455.33M451.53 607.15V608.6M447.73 608.6H455.33" stroke="#000000" stroke-width="1.15" fill="none"/>
<path d="M498.4 592.45V597.6M494.6 597.6H502.2M498.4 606.55V601.4M494.6 601.4H502.2" stroke="#000000" stroke-width="1.15" fill="none"/>
<path d="M521.83 597.2V603.55M518.03 603.55H525.63M521.83 611.3V604.95M518.03 604.95H525.63" stroke="#000000" stroke-width="1.15" fill="none"/>
<path d="M545.27 565.7V567.25M541.47 567.25H549.07M545.27 579.8V578.25M541.47 578.25H549.07" stroke="#000000" stroke-width="1.15" fill="none"/>
<path d="M592.14 572.45V564.5M588.34 564.5H595.94M592.14 586.55V594.5M588.34 594.5H595.94" stroke="#000000" stroke-width="1.15" fill="none"/>
<path d="M639.01 547.7V552.85M635.21 552.85H642.81M639.01 561.8V556.65M635.21 556.65H642.81" stroke="#000000" stroke-width="1.15" fill="none"/>
<path d="M685.89 598.45V603.6M682.09 603.6H689.69M685.89 612.55V607.4M682.09 607.4H689.69" stroke="#000000" stroke-width="1.15" fill="none"/>
<path d="M732.76 600.95V606.1M728.96 606.1H736.56M732.76 615.05V609.9M728.96 609.9H736.56" stroke="#000000" stroke-width="1.15" fill="none"/>
<path d="M779.63 598.45V603.6M775.83 603.6H783.43M779.63 612.55V607.4M775.83 607.4H783.43" stroke="#000000" stroke-width="1.15" fill="none"/>
<path d="M826.5 601.2V603.75M822.7 603.75H830.3M826.5 615.3V612.75M822.7 612.75H830.3" stroke="#000000" stroke-width="1.15" fill="none"/>
<path d="M873.37 589.95V595M869.57 595H877.17M873.37 604.05V599M869.57 599H877.17" stroke="#000000" stroke-width="1.15" fill="none"/>
<path d="M920.25 592.45V594M916.45 594H924.05M920.25 606.55V605M916.45 605H924.05" stroke="#000000" stroke-width="1.15" fill="none"/>
<path d="M967.12 593.2V598.25M963.32 598.25H970.92M967.12 607.3V602.25M963.32 602.25H970.92" stroke="#000000" stroke-width="1.15" fill="none"/>
<path d="M1013.99 609.7V604.25M1010.19 604.25H1017.79M1013.99 623.8V629.25M1010.19 629.25H1017.79" stroke="#000000" stroke-width="1.15" fill="none"/>
<path d="M1060.86 597.45V597.7M1057.06 597.7H1064.66M1060.86 611.55V611.3M1057.06 611.3H1064.66" stroke="#000000" stroke-width="1.15" fill="none"/>
<path d="M1107.73 604.2V602.45M1103.93 602.45H1111.53M1107.73 618.3V620.05M1103.93 620.05H1111.53" stroke="#000000" stroke-width="1.15" fill="none"/>
<path d="M1154.61 606.7V605.45M1150.81 605.45H1158.41M1154.61 620.8V622.05M1150.81 622.05H1158.41" stroke="#000000" stroke-width="1.15" fill="none"/>
<path d="M1201.48 605.45V602.7M1197.68 602.7H1205.28M1201.48 619.55V622.3M1197.68 622.3H1205.28" stroke="#000000" stroke-width="1.15" fill="none"/>
<path d="M1248.35 603.7V599.95M1244.55 599.95H1252.15M1248.35 617.8V621.55M1244.55 621.55H1252.15" stroke="#000000" stroke-width="1.15" fill="none"/>
<path d="M1388.97 601.95V607.1M1385.17 607.1H1392.77M1388.97 616.05V610.9M1385.17 610.9H1392.77" stroke="#000000" stroke-width="1.15" fill="none"/>
<path d="M1529.58 608.7V613.85M1525.78 613.85H1533.38M1529.58 622.8V617.65M1525.78 617.65H1533.38" stroke="#000000" stroke-width="1.15" fill="none"/>
<path d="M1670.2 581.95V578.9M1666.4 578.9H1674M1670.2 596.05V599.1M1666.4 599.1H1674" stroke="#000000" stroke-width="1.15" fill="none"/>
<path d="M1810.81 589.7V577.35M1807.01 577.35H1814.61M1810.81 603.8V616.15M1807.01 616.15H1814.61" stroke="#000000" stroke-width="1.15" fill="none"/>
<text x="7.64" y="25.7" font-size="27.2" font-weight="bold" fill="#231815" stroke="#231815" stroke-width="0.7" textLength="13.16" lengthAdjust="spacingAndGlyphs">a</text>
<text x="666.57" y="25.7" font-size="27.2" font-weight="bold" fill="#231815" stroke="#231815" stroke-width="0.7" textLength="14.88" lengthAdjust="spacingAndGlyphs">b</text>
<text x="1314.92" y="25.7" font-size="27.2" font-weight="bold" fill="#231815" stroke="#231815" stroke-width="0.7" textLength="13.69" lengthAdjust="spacingAndGlyphs">c</text>
<text x="7.79" y="509.9" font-size="27.2" font-weight="bold" fill="#231815" stroke="#231815" stroke-width="0.7" textLength="14.64" lengthAdjust="spacingAndGlyphs">d</text>
</svg>
</body>
</html>
